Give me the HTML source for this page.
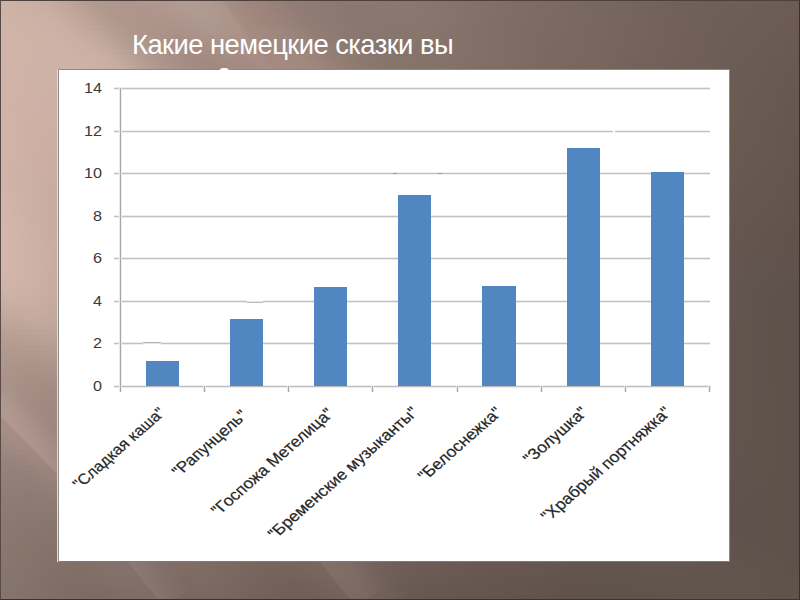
<!DOCTYPE html>
<html>
<head>
<meta charset="utf-8">
<style>
html,body{margin:0;padding:0;}
body{width:800px;height:600px;overflow:hidden;position:relative;font-family:"Liberation Sans",sans-serif;}
#bg{position:absolute;left:0;top:0;width:800px;height:600px;overflow:hidden;}
#bg i{position:absolute;left:0;width:800px;height:5px;}
#streaks{position:absolute;left:0;top:0;}
#frame{position:absolute;left:0;top:0;width:798px;height:598px;border-style:solid;border-width:1px;border-color:#4E403C #3A2F2C #3E3230 #5A4A47;}
#title{position:absolute;left:132px;top:29px;font-size:27.4px;letter-spacing:-0.56px;line-height:32px;color:#FFFFFF;white-space:nowrap;}
#t2wrap{position:absolute;left:200px;top:60px;width:60px;height:9.5px;overflow:hidden;}
#title2{position:absolute;left:18px;top:-2.3px;font-size:27.4px;line-height:32px;color:#FFFFFF;white-space:nowrap;}
#chart{position:absolute;left:57px;top:69px;width:673px;height:493px;background:#fff;
 box-shadow: inset 1px 0 0 #E2DAD6, inset 2px 0 0 #8E8E8E, inset 0 1px 0 #8A8A8A, inset -1px 0 0 #8A8A8A, inset 0 -1px 0 #7A7A7A;}
.hl{position:absolute;height:1px;background:#C2C2C2;box-shadow:0 -1px 0 #EDEDED,0 1px 0 #EDEDED;}
.vl{position:absolute;width:1px;background:#A8A8A8;box-shadow:-1px 0 0 #EAEAEA,1px 0 0 #EAEAEA;}
.bar{position:absolute;background:#5087C1;}
.yl{position:absolute;width:40px;text-align:right;font-size:15px;line-height:16px;color:#3A3A3A;transform-origin:100% 50%;transform:scaleX(1.08);}
.lab{position:absolute;white-space:nowrap;line-height:1.25em;color:#262626;-webkit-text-stroke:0.2px #262626;transform:scaleX(1.1383) rotate(-45deg);}
</style>
</head>
<body>
<div id="bg">
<i style="top:0px;background:linear-gradient(90deg,#CDB2A6 0%,#CCB1A6 1.25%,#CBB0A5 2.5%,#CAAFA4 3.75%,#C8ADA2 5%,#C6ABA0 6.25%,#C2A79D 7.5%,#BDA499 8.75%,#B89F94 10%,#B49B90 11.25%,#B0998E 12.5%,#AF978C 13.75%,#AF968C 15%,#AF968C 16.25%,#AF978C 17.5%,#B0978D 18.75%,#B0988F 20%,#B19990 21.25%,#B19B92 22.5%,#B19B92 23.75%,#B09990 25%,#AC968C 26.25%,#A99188 27.5%,#A58D84 28.75%,#A28980 30%,#9E867D 31.25%,#9C847B 32.5%,#998179 33.75%,#957F77 35%,#927D75 36.25%,#907C74 37.5%,#8E7B73 38.75%,#8D7A72 40%,#8C7971 41.25%,#8B7971 42.5%,#8B7971 43.75%,#8B7971 45%,#8B7971 46.25%,#8B7971 47.5%,#8B7971 48.75%,#8B7871 50%,#8A7870 51.25%,#89776F 52.5%,#88766E 53.75%,#87746D 55%,#86736C 56.25%,#85726B 57.5%,#84716A 58.75%,#837069 60%,#826F68 61.25%,#816E67 62.5%,#806D66 63.75%,#7F6C65 65%,#7E6C64 66.25%,#7D6B64 67.5%,#7D6A63 68.75%,#7C6A62 70%,#7B6962 71.25%,#7A6961 72.5%,#796860 73.75%,#78675F 75%,#77675F 76.25%,#77665E 77.5%,#76655D 78.75%,#75645D 80%,#74645C 81.25%,#73635C 82.5%,#72625B 83.75%,#72615A 85%,#71615A 86.25%,#706059 87.5%,#706059 88.75%,#6F5F58 90%,#6F5F58 91.25%,#6E5E57 92.5%,#6E5E57 93.75%,#6E5E57 95%,#6D5D56 96.25%,#6D5D56 97.5%,#6D5C55 98.75%,#6C5C55 100%)"></i>
<i style="top:5px;background:linear-gradient(90deg,#CEB3A7 0%,#CDB2A6 1.25%,#CCB1A5 2.5%,#CBB0A4 3.75%,#C9AEA3 5%,#C7ACA1 6.25%,#C4A99E 7.5%,#C0A59A 8.75%,#BBA196 10%,#B69D92 11.25%,#B1998E 12.5%,#AF988D 13.75%,#AF968C 15%,#AE968B 16.25%,#AF968C 17.5%,#AF968C 18.75%,#AF978E 20%,#B0988F 21.25%,#B19A91 22.5%,#B19B91 23.75%,#B09A90 25%,#AD978D 26.25%,#AA9289 27.5%,#A68E85 28.75%,#A38A81 30%,#9F877E 31.25%,#9D847C 32.5%,#9A827A 33.75%,#978078 35%,#937E76 36.25%,#917C74 37.5%,#8F7B73 38.75%,#8D7A72 40%,#8C7971 41.25%,#8B7971 42.5%,#8A7870 43.75%,#8A7870 45%,#8A7870 46.25%,#8A7971 47.5%,#8B7971 48.75%,#8A7870 50%,#8A7870 51.25%,#89776F 52.5%,#88766E 53.75%,#87746D 55%,#86736C 56.25%,#85726B 57.5%,#84716A 58.75%,#837069 60%,#826F67 61.25%,#816E66 62.5%,#806D66 63.75%,#7F6C65 65%,#7E6B64 66.25%,#7D6B63 67.5%,#7D6A63 68.75%,#7C6A62 70%,#7B6961 71.25%,#7A6961 72.5%,#796860 73.75%,#78675F 75%,#77675F 76.25%,#76665E 77.5%,#76655D 78.75%,#75645D 80%,#74635C 81.25%,#73635B 82.5%,#72625B 83.75%,#71615A 85%,#71615A 86.25%,#706059 87.5%,#6F5F59 88.75%,#6F5F58 90%,#6E5E58 91.25%,#6E5E57 92.5%,#6E5E57 93.75%,#6D5D56 95%,#6D5D56 96.25%,#6D5D56 97.5%,#6C5C55 98.75%,#6C5C55 100%)"></i>
<i style="top:10px;background:linear-gradient(90deg,#CEB3A7 0%,#CDB2A6 1.25%,#CCB1A6 2.5%,#CCB1A5 3.75%,#CAAFA4 5%,#C9AEA3 6.25%,#C6ABA0 7.5%,#C2A79C 8.75%,#BDA398 10%,#B89F94 11.25%,#B39B90 12.5%,#B0988D 13.75%,#AF978C 15%,#AE968B 16.25%,#AE958B 17.5%,#AE958B 18.75%,#AE968C 20%,#AF978E 21.25%,#AF988F 22.5%,#B09A90 23.75%,#B09A90 25%,#AE978D 26.25%,#AB9389 27.5%,#A78F85 28.75%,#A48B82 30%,#A1887E 31.25%,#9E857C 32.5%,#9B837B 33.75%,#988179 35%,#957F77 36.25%,#917D75 37.5%,#8F7B73 38.75%,#8D7A72 40%,#8C7971 41.25%,#8B7971 42.5%,#8A7870 43.75%,#8A7870 45%,#8A7870 46.25%,#8A7870 47.5%,#8A7870 48.75%,#8A7870 50%,#8A7770 51.25%,#89776F 52.5%,#88766E 53.75%,#87746D 55%,#86736C 56.25%,#85726B 57.5%,#84716A 58.75%,#837068 60%,#826F67 61.25%,#816D66 62.5%,#806D65 63.75%,#7F6C65 65%,#7E6B64 66.25%,#7D6B63 67.5%,#7C6A63 68.75%,#7C6962 70%,#7B6961 71.25%,#7A6861 72.5%,#796860 73.75%,#78675F 75%,#77665E 76.25%,#76665E 77.5%,#75655D 78.75%,#75645C 80%,#74635C 81.25%,#73635B 82.5%,#72625B 83.75%,#71615A 85%,#716059 86.25%,#706059 87.5%,#6F5F58 88.75%,#6F5F58 90%,#6E5E57 91.25%,#6E5E57 92.5%,#6D5D57 93.75%,#6D5D56 95%,#6D5D56 96.25%,#6C5C55 97.5%,#6C5C55 98.75%,#6C5B54 100%)"></i>
<i style="top:15px;background:linear-gradient(90deg,#CFB3A7 0%,#CEB3A6 1.25%,#CDB2A6 2.5%,#CCB1A5 3.75%,#CBB0A5 5%,#CAAFA4 6.25%,#C8ACA1 7.5%,#C4A99E 8.75%,#C0A59A 10%,#BBA196 11.25%,#B59D92 12.5%,#B1998E 13.75%,#AF978C 15%,#AE968B 16.25%,#AE958B 17.5%,#AE958B 18.75%,#AD958B 20%,#AE958C 21.25%,#AE978E 22.5%,#AF988F 23.75%,#B0998F 25%,#AE978D 26.25%,#AB948A 27.5%,#A89086 28.75%,#A58C83 30%,#A2897F 31.25%,#9F867D 32.5%,#9D847B 33.75%,#9A827A 35%,#968078 36.25%,#937D75 37.5%,#907C74 38.75%,#8E7A72 40%,#8C7971 41.25%,#8B7970 42.5%,#8A7870 43.75%,#89786F 45%,#89786F 46.25%,#89786F 47.5%,#8A7870 48.75%,#8A7870 50%,#89776F 51.25%,#89766F 52.5%,#88756E 53.75%,#87746D 55%,#86736C 56.25%,#85726B 57.5%,#847169 58.75%,#837068 60%,#816E67 61.25%,#806D66 62.5%,#7F6C65 63.75%,#7F6C65 65%,#7E6B64 66.25%,#7D6A63 67.5%,#7C6A62 68.75%,#7B6962 70%,#7B6961 71.25%,#7A6860 72.5%,#796860 73.75%,#78675F 75%,#77665E 76.25%,#76655E 77.5%,#75655D 78.75%,#74645C 80%,#74635C 81.25%,#73625B 82.5%,#72625A 83.75%,#71615A 85%,#706059 86.25%,#706059 87.5%,#6F5F58 88.75%,#6E5F58 90%,#6E5E57 91.25%,#6D5E57 92.5%,#6D5D56 93.75%,#6C5D56 95%,#6C5C55 96.25%,#6C5C55 97.5%,#6C5C55 98.75%,#6B5B54 100%)"></i>
<i style="top:20px;background:linear-gradient(90deg,#CFB4A7 0%,#CEB3A7 1.25%,#CDB2A6 2.5%,#CDB2A6 3.75%,#CCB1A5 5%,#CBB0A4 6.25%,#C9AEA3 7.5%,#C6ABA0 8.75%,#C2A79C 10%,#BDA398 11.25%,#B89F94 12.5%,#B39B90 13.75%,#B0988D 15%,#AF968C 16.25%,#AE958B 17.5%,#AD948A 18.75%,#AD948A 20%,#AC948B 21.25%,#AD958C 22.5%,#AE978D 23.75%,#AE988E 25%,#AE978D 26.25%,#AB948A 27.5%,#A99187 28.75%,#A68D83 30%,#A38A80 31.25%,#A0877E 32.5%,#9E857C 33.75%,#9B837B 35%,#988179 36.25%,#947F76 37.5%,#917C74 38.75%,#8F7B73 40%,#8D7A72 41.25%,#8B7971 42.5%,#8A7870 43.75%,#89776F 45%,#89776F 46.25%,#89776F 47.5%,#89776F 48.75%,#89776F 50%,#89776F 51.25%,#88766E 52.5%,#88756E 53.75%,#87746D 55%,#86736C 56.25%,#85726B 57.5%,#847169 58.75%,#827068 60%,#816E67 61.25%,#806D66 62.5%,#7F6C65 63.75%,#7E6B64 65%,#7E6B64 66.25%,#7D6A63 67.5%,#7C6A62 68.75%,#7B6962 70%,#7A6861 71.25%,#7A6860 72.5%,#796760 73.75%,#78675F 75%,#77665E 76.25%,#76655D 77.5%,#75655D 78.75%,#74645C 80%,#73635B 81.25%,#73625B 82.5%,#72615A 83.75%,#71615A 85%,#706059 86.25%,#6F5F59 87.5%,#6F5F58 88.75%,#6E5E57 90%,#6D5E57 91.25%,#6D5D56 92.5%,#6C5D56 93.75%,#6C5D56 95%,#6C5C55 96.25%,#6C5C55 97.5%,#6B5B54 98.75%,#6B5B54 100%)"></i>
<i style="top:25px;background:linear-gradient(90deg,#D0B4A8 0%,#CFB3A7 1.25%,#CEB2A7 2.5%,#CDB2A6 3.75%,#CDB1A6 5%,#CCB0A5 6.25%,#CAAFA4 7.5%,#C8ADA2 8.75%,#C5A99E 10%,#C0A69B 11.25%,#BBA296 12.5%,#B69D92 13.75%,#B29A8F 15%,#AF978C 16.25%,#AE958B 17.5%,#AD948A 18.75%,#AC9389 20%,#AB9389 21.25%,#AC938A 22.5%,#AC958C 23.75%,#AD968D 25%,#AD968C 26.25%,#AB948A 27.5%,#A99187 28.75%,#A68E84 30%,#A48B81 31.25%,#A2887F 32.5%,#9F867D 33.75%,#9D857C 35%,#9A827A 36.25%,#968077 37.5%,#927D75 38.75%,#907C73 40%,#8E7A72 41.25%,#8C7971 42.5%,#8A7870 43.75%,#89776F 45%,#88776E 46.25%,#88776E 47.5%,#88776E 48.75%,#89776F 50%,#89776F 51.25%,#88766E 52.5%,#87756D 53.75%,#86746D 55%,#86736C 56.25%,#84726A 57.5%,#837169 58.75%,#827068 60%,#816E67 61.25%,#806D66 62.5%,#7F6C65 63.75%,#7E6B64 65%,#7D6B63 66.25%,#7D6A63 67.5%,#7C6962 68.75%,#7B6962 70%,#7A6861 71.25%,#7A6860 72.5%,#79675F 73.75%,#78675F 75%,#77665E 76.25%,#76655D 77.5%,#75645D 78.75%,#74645C 80%,#73635B 81.25%,#73625B 82.5%,#72615A 83.75%,#716159 85%,#706059 86.25%,#6F5F58 87.5%,#6F5F58 88.75%,#6E5E57 90%,#6D5E57 91.25%,#6D5D56 92.5%,#6C5D56 93.75%,#6C5C55 95%,#6B5C55 96.25%,#6B5C55 97.5%,#6B5B54 98.75%,#6B5B54 100%)"></i>
<i style="top:30px;background:linear-gradient(90deg,#D0B4A8 0%,#CFB3A7 1.25%,#CEB3A7 2.5%,#CEB2A6 3.75%,#CDB2A6 5%,#CCB1A6 6.25%,#CBB0A5 7.5%,#C9AEA3 8.75%,#C7ABA0 10%,#C3A89D 11.25%,#BEA499 12.5%,#B89F95 13.75%,#B49B90 15%,#B1988D 16.25%,#AE968B 17.5%,#AD948A 18.75%,#AC9289 20%,#AB9288 21.25%,#AA9289 22.5%,#AB938A 23.75%,#AC948B 25%,#AC958B 26.25%,#AB9389 27.5%,#A99187 28.75%,#A78E84 30%,#A58B81 31.25%,#A3897F 32.5%,#A1877E 33.75%,#9E867D 35%,#9B847B 36.25%,#988178 37.5%,#947F76 38.75%,#917C74 40%,#8E7B72 41.25%,#8C7971 42.5%,#8B7870 43.75%,#89776F 45%,#88776E 46.25%,#88766E 47.5%,#88766E 48.75%,#88766E 50%,#88766E 51.25%,#88766E 52.5%,#87756D 53.75%,#86746C 55%,#85736B 56.25%,#84726A 57.5%,#837169 58.75%,#826F68 60%,#816E67 61.25%,#806D66 62.5%,#7F6C65 63.75%,#7E6B64 65%,#7D6A63 66.25%,#7C6A63 67.5%,#7C6962 68.75%,#7B6961 70%,#7A6861 71.25%,#796760 72.5%,#79675F 73.75%,#78665F 75%,#77665E 76.25%,#76655D 77.5%,#75645C 78.75%,#74645C 80%,#73635B 81.25%,#72625A 82.5%,#72615A 83.75%,#716059 85%,#706059 86.25%,#6F5F58 87.5%,#6E5E58 88.75%,#6E5E57 90%,#6D5D56 91.25%,#6C5D56 92.5%,#6C5C56 93.75%,#6B5C55 95%,#6B5C55 96.25%,#6B5B54 97.5%,#6B5B54 98.75%,#6A5B53 100%)"></i>
<i style="top:35px;background:linear-gradient(90deg,#D0B4A8 0%,#CFB3A7 1.25%,#CFB3A7 2.5%,#CEB2A7 3.75%,#CEB2A6 5%,#CDB2A6 6.25%,#CCB1A5 7.5%,#CBAFA4 8.75%,#C8ADA2 10%,#C5AA9F 11.25%,#C1A79C 12.5%,#BBA297 13.75%,#B69D93 15%,#B29A8F 16.25%,#AF968C 17.5%,#AD948A 18.75%,#AB9288 20%,#AA9187 21.25%,#A99087 22.5%,#A99188 23.75%,#AA9289 25%,#AA9389 26.25%,#AA9288 27.5%,#A99086 28.75%,#A78E84 30%,#A58C82 31.25%,#A38A80 32.5%,#A2887F 33.75%,#A0877E 35%,#9D857C 36.25%,#9A837A 37.5%,#968077 38.75%,#927D75 40%,#8F7B73 41.25%,#8D7A71 42.5%,#8B7870 43.75%,#89776F 45%,#88776E 46.25%,#87766D 47.5%,#87766D 48.75%,#87766D 50%,#87766D 51.25%,#87756D 52.5%,#87756D 53.75%,#86746C 55%,#85736B 56.25%,#84726A 57.5%,#837169 58.75%,#826F68 60%,#816E67 61.25%,#806D66 62.5%,#7F6C65 63.75%,#7E6B64 65%,#7D6A63 66.25%,#7C6962 67.5%,#7C6962 68.75%,#7B6861 70%,#7A6861 71.25%,#796760 72.5%,#78675F 73.75%,#78665F 75%,#77665E 76.25%,#76655D 77.5%,#75645C 78.75%,#74635C 80%,#73635B 81.25%,#72625A 82.5%,#71615A 83.75%,#716059 85%,#706058 86.25%,#6F5F58 87.5%,#6E5E57 88.75%,#6D5E57 90%,#6D5D56 91.25%,#6C5D56 92.5%,#6B5C55 93.75%,#6B5C55 95%,#6B5B54 96.25%,#6A5B54 97.5%,#6A5B54 98.75%,#6A5A53 100%)"></i>
<i style="top:40px;background:linear-gradient(90deg,#D0B4A8 0%,#D0B3A7 1.25%,#CFB3A7 2.5%,#CEB3A7 3.75%,#CEB2A7 5%,#CDB2A6 6.25%,#CDB1A6 7.5%,#CCB0A5 8.75%,#CAAFA4 10%,#C7ACA1 11.25%,#C3A99E 12.5%,#BEA59A 13.75%,#B9A095 15%,#B49B91 16.25%,#B0988D 17.5%,#AE958A 18.75%,#AB9288 20%,#A99087 21.25%,#A88F86 22.5%,#A88F86 23.75%,#A89087 25%,#A99188 26.25%,#A99187 27.5%,#A89085 28.75%,#A68D83 30%,#A58C82 31.25%,#A48A80 32.5%,#A3897F 33.75%,#A1887E 35%,#9F867D 36.25%,#9B847B 37.5%,#988178 38.75%,#947E76 40%,#917C74 41.25%,#8E7A72 42.5%,#8C7970 43.75%,#8A786F 45%,#88776E 46.25%,#87766D 47.5%,#87756D 48.75%,#87756D 50%,#87756D 51.25%,#87756D 52.5%,#86756C 53.75%,#86746C 55%,#85736B 56.25%,#84726A 57.5%,#837169 58.75%,#826F68 60%,#816E67 61.25%,#806D66 62.5%,#7F6C65 63.75%,#7E6B64 65%,#7D6A63 66.25%,#7C6962 67.5%,#7B6962 68.75%,#7B6861 70%,#7A6860 71.25%,#796760 72.5%,#78665F 73.75%,#77665E 75%,#77655E 76.25%,#76655D 77.5%,#75645C 78.75%,#74635B 80%,#73635B 81.25%,#72625A 82.5%,#716159 83.75%,#706059 85%,#706058 86.25%,#6F5F58 87.5%,#6E5E57 88.75%,#6D5E57 90%,#6C5D56 91.25%,#6C5C56 92.5%,#6B5C55 93.75%,#6B5C55 95%,#6A5B54 96.25%,#6A5B54 97.5%,#6A5A53 98.75%,#695A53 100%)"></i>
<i style="top:45px;background:linear-gradient(90deg,#D1B4A8 0%,#D0B3A8 1.25%,#CFB3A7 2.5%,#CFB3A7 3.75%,#CEB2A7 5%,#CEB2A7 6.25%,#CDB2A6 7.5%,#CCB1A6 8.75%,#CBB0A5 10%,#C9AEA3 11.25%,#C6ABA0 12.5%,#C1A79C 13.75%,#BBA297 15%,#B69D93 16.25%,#B2998F 17.5%,#AE968B 18.75%,#AC9389 20%,#A99087 21.25%,#A78E85 22.5%,#A68E85 23.75%,#A78E85 25%,#A78F86 26.25%,#A88F86 27.5%,#A78F85 28.75%,#A68D83 30%,#A58B81 31.25%,#A48A80 32.5%,#A3897F 33.75%,#A2897F 35%,#A0887E 36.25%,#9D857C 37.5%,#998379 38.75%,#958077 40%,#927D74 41.25%,#8F7B72 42.5%,#8C7971 43.75%,#8A786F 45%,#88776E 46.25%,#87766D 47.5%,#86756C 48.75%,#86756C 50%,#86756C 51.25%,#86756C 52.5%,#86746C 53.75%,#85746B 55%,#85736B 56.25%,#84726A 57.5%,#837069 58.75%,#826F68 60%,#816E67 61.25%,#806D66 62.5%,#7F6C65 63.75%,#7E6B64 65%,#7D6A63 66.25%,#7C6962 67.5%,#7B6862 68.75%,#7A6861 70%,#7A6760 71.25%,#796760 72.5%,#78665F 73.75%,#77665E 75%,#76655E 76.25%,#76645D 77.5%,#75645C 78.75%,#74635B 80%,#73625B 81.25%,#72625A 82.5%,#716159 83.75%,#706059 85%,#6F5F58 86.25%,#6F5F58 87.5%,#6E5E57 88.75%,#6D5D56 90%,#6C5D56 91.25%,#6C5C55 92.5%,#6B5C55 93.75%,#6A5B54 95%,#6A5B54 96.25%,#6A5B54 97.5%,#695A53 98.75%,#695A53 100%)"></i>
<i style="top:50px;background:linear-gradient(90deg,#D1B4A8 0%,#D0B3A8 1.25%,#CFB3A7 2.5%,#CFB3A7 3.75%,#CEB2A7 5%,#CEB2A7 6.25%,#CEB2A7 7.5%,#CDB1A6 8.75%,#CCB0A5 10%,#CAAFA4 11.25%,#C8ADA2 12.5%,#C4AA9F 13.75%,#BEA59A 15%,#B8A095 16.25%,#B49B90 17.5%,#B0978C 18.75%,#AC9389 20%,#AA9087 21.25%,#A78E85 22.5%,#A68D84 23.75%,#A58D84 25%,#A68D84 26.25%,#A68E84 27.5%,#A68D83 28.75%,#A58C82 30%,#A58B81 31.25%,#A48A80 32.5%,#A38A80 33.75%,#A3897F 35%,#A2897F 36.25%,#9F877D 37.5%,#9B847B 38.75%,#978178 40%,#937E75 41.25%,#907C73 42.5%,#8D7A71 43.75%,#8B786F 45%,#89776E 46.25%,#87766D 47.5%,#86756C 48.75%,#86756C 50%,#86746C 51.25%,#85746C 52.5%,#85746C 53.75%,#85736B 55%,#84726A 56.25%,#83716A 57.5%,#837069 58.75%,#826F68 60%,#816E67 61.25%,#806D66 62.5%,#7F6C65 63.75%,#7E6B64 65%,#7D6A63 66.25%,#7C6962 67.5%,#7B6861 68.75%,#7A6861 70%,#7A6760 71.25%,#796760 72.5%,#78665F 73.75%,#77655E 75%,#76655D 76.25%,#75645D 77.5%,#75645C 78.75%,#74635B 80%,#73625B 81.25%,#72615A 82.5%,#716159 83.75%,#706059 85%,#6F5F58 86.25%,#6F5F57 87.5%,#6E5E57 88.75%,#6D5D56 90%,#6C5D56 91.25%,#6B5C55 92.5%,#6B5C55 93.75%,#6A5B54 95%,#6A5B54 96.25%,#695A53 97.5%,#695A53 98.75%,#695A52 100%)"></i>
<i style="top:55px;background:linear-gradient(90deg,#D1B4A8 0%,#D0B3A8 1.25%,#D0B3A7 2.5%,#CFB3A7 3.75%,#CFB2A7 5%,#CEB2A7 6.25%,#CEB2A7 7.5%,#CDB2A7 8.75%,#CDB1A6 10%,#CBB0A5 11.25%,#C9AEA3 12.5%,#C6ACA1 13.75%,#C1A79C 15%,#BBA297 16.25%,#B69D92 17.5%,#B1988E 18.75%,#AD948A 20%,#AA9187 21.25%,#A78E85 22.5%,#A58C83 23.75%,#A48B82 25%,#A48C83 26.25%,#A58C83 27.5%,#A58C82 28.75%,#A48B81 30%,#A48A80 31.25%,#A48A7F 32.5%,#A3897F 33.75%,#A3897F 35%,#A3897F 36.25%,#A1887E 37.5%,#9D857C 38.75%,#998279 40%,#957F76 41.25%,#917D74 42.5%,#8E7B72 43.75%,#8C7970 45%,#89776E 46.25%,#88766D 47.5%,#86756C 48.75%,#85746B 50%,#85746B 51.25%,#85746B 52.5%,#85736B 53.75%,#84736B 55%,#84726A 56.25%,#837169 57.5%,#827069 58.75%,#816F68 60%,#806E67 61.25%,#7F6D66 62.5%,#7E6C65 63.75%,#7D6B64 65%,#7C6A63 66.25%,#7C6962 67.5%,#7B6861 68.75%,#7A6761 70%,#796760 71.25%,#79665F 72.5%,#78665F 73.75%,#77655E 75%,#76655D 76.25%,#75645D 77.5%,#74635C 78.75%,#74635B 80%,#73625A 81.25%,#72615A 82.5%,#716159 83.75%,#706058 85%,#6F5F58 86.25%,#6E5E57 87.5%,#6E5E57 88.75%,#6D5D56 90%,#6C5D55 91.25%,#6B5C55 92.5%,#6B5B54 93.75%,#6A5B54 95%,#695A53 96.25%,#695A53 97.5%,#695A53 98.75%,#685952 100%)"></i>
<i style="top:60px;background:linear-gradient(90deg,#D1B4A8 0%,#D0B3A8 1.25%,#D0B3A7 2.5%,#CFB3A7 3.75%,#CFB2A7 5%,#CEB2A7 6.25%,#CEB2A7 7.5%,#CEB2A7 8.75%,#CDB2A6 10%,#CCB1A6 11.25%,#CAAFA4 12.5%,#C8ADA2 13.75%,#C3AA9F 15%,#BDA499 16.25%,#B89F94 17.5%,#B39A8F 18.75%,#AE958B 20%,#AB9288 21.25%,#A88E85 22.5%,#A58C83 23.75%,#A38A81 25%,#A38A81 26.25%,#A48B81 27.5%,#A48B81 28.75%,#A48A80 30%,#A3897F 31.25%,#A3897F 32.5%,#A3897F 33.75%,#A3897F 35%,#A3897F 36.25%,#A2897F 37.5%,#9F877D 38.75%,#9B847A 40%,#978177 41.25%,#937E75 42.5%,#8F7B72 43.75%,#8D7970 45%,#8A786F 46.25%,#88766D 47.5%,#86756C 48.75%,#85746B 50%,#85746B 51.25%,#84736B 52.5%,#84736B 53.75%,#84736A 55%,#84726A 56.25%,#837169 57.5%,#827068 58.75%,#816F67 60%,#806E67 61.25%,#7F6D66 62.5%,#7E6C65 63.75%,#7D6B64 65%,#7C6A63 66.25%,#7B6962 67.5%,#7B6861 68.75%,#7A6760 70%,#796760 71.25%,#78665F 72.5%,#78665F 73.75%,#77655E 75%,#76645D 76.25%,#75645D 77.5%,#74635C 78.75%,#73635B 80%,#73625A 81.25%,#72615A 82.5%,#716059 83.75%,#706058 85%,#6F5F58 86.25%,#6E5E57 87.5%,#6D5E56 88.75%,#6D5D56 90%,#6C5C55 91.25%,#6B5C55 92.5%,#6A5B54 93.75%,#6A5B54 95%,#695A53 96.25%,#695A53 97.5%,#685952 98.75%,#685952 100%)"></i>
<i style="top:65px;background:linear-gradient(90deg,#D1B4A8 0%,#D0B3A8 1.25%,#D0B3A7 2.5%,#CFB2A7 3.75%,#CFB2A7 5%,#CFB2A7 6.25%,#CEB2A7 7.5%,#CEB2A7 8.75%,#CDB2A7 10%,#CCB1A6 11.25%,#CBB0A5 12.5%,#C9AEA3 13.75%,#C5ABA0 15%,#C0A69B 16.25%,#BAA196 17.5%,#B59C91 18.75%,#B0978D 20%,#AC9389 21.25%,#A88F85 22.5%,#A58C83 23.75%,#A38A81 25%,#A28980 26.25%,#A28980 27.5%,#A38A80 28.75%,#A3897F 30%,#A2887E 31.25%,#A2887E 32.5%,#A3887E 33.75%,#A3897F 35%,#A3897F 36.25%,#A2897F 37.5%,#A0887E 38.75%,#9C857B 40%,#988278 41.25%,#947F76 42.5%,#917C73 43.75%,#8D7A71 45%,#8B786F 46.25%,#88766D 47.5%,#87756C 48.75%,#85746B 50%,#84736A 51.25%,#84736A 52.5%,#84736A 53.75%,#84726A 55%,#837269 56.25%,#837169 57.5%,#827068 58.75%,#816F67 60%,#806E66 61.25%,#7F6D65 62.5%,#7E6C64 63.75%,#7D6B63 65%,#7C6963 66.25%,#7B6962 67.5%,#7A6861 68.75%,#7A6760 70%,#796660 71.25%,#78665F 72.5%,#78655E 73.75%,#77655E 75%,#76645D 76.25%,#75645C 77.5%,#74635C 78.75%,#73625B 80%,#72625A 81.25%,#726159 82.5%,#716059 83.75%,#706058 85%,#6F5F57 86.25%,#6E5E57 87.5%,#6D5E56 88.75%,#6D5D56 90%,#6C5C55 91.25%,#6B5C54 92.5%,#6A5B54 93.75%,#6A5B53 95%,#695A53 96.25%,#685A53 97.5%,#685952 98.75%,#685952 100%)"></i>
<i style="top:70px;background:linear-gradient(90deg,#D1B4A8 0%,#D0B3A7 1.25%,#D0B2A7 2.5%,#CFB2A7 3.75%,#CFB2A7 5%,#CFB2A7 6.25%,#CEB2A7 7.5%,#CEB2A7 8.75%,#6C5D55 90%,#6C5C55 91.25%,#6B5B54 92.5%,#6A5B54 93.75%,#695A53 95%,#695A53 96.25%,#685952 97.5%,#685952 98.75%,#675951 100%)"></i>
<i style="top:75px;background:linear-gradient(90deg,#D1B4A8 0%,#D0B3A7 1.25%,#D0B2A7 2.5%,#CFB2A7 3.75%,#CFB2A7 5%,#CFB2A7 6.25%,#CEB2A7 7.5%,#CEB2A7 8.75%,#6C5D55 90%,#6B5C55 91.25%,#6B5B54 92.5%,#6A5B54 93.75%,#695A53 95%,#695A53 96.25%,#685952 97.5%,#675952 98.75%,#675851 100%)"></i>
<i style="top:80px;background:linear-gradient(90deg,#D1B3A8 0%,#D0B3A7 1.25%,#D0B2A7 2.5%,#CFB2A7 3.75%,#CFB2A6 5%,#CEB2A6 6.25%,#CEB2A7 7.5%,#CEB2A7 8.75%,#6C5C55 90%,#6B5C54 91.25%,#6B5B54 92.5%,#6A5B53 93.75%,#695A53 95%,#685A52 96.25%,#685952 97.5%,#675951 98.75%,#675851 100%)"></i>
<i style="top:85px;background:linear-gradient(90deg,#D1B3A8 0%,#D1B3A7 1.25%,#D0B2A7 2.5%,#CFB2A6 3.75%,#CFB1A6 5%,#CEB1A6 6.25%,#CEB1A6 7.5%,#CEB2A6 8.75%,#6C5C55 90%,#6B5C54 91.25%,#6A5B54 92.5%,#6A5B53 93.75%,#695A53 95%,#685952 96.25%,#685952 97.5%,#675851 98.75%,#675851 100%)"></i>
<i style="top:90px;background:linear-gradient(90deg,#D1B3A8 0%,#D1B2A7 1.25%,#D0B2A7 2.5%,#CFB1A6 3.75%,#CFB1A6 5%,#CEB1A6 6.25%,#CEB1A6 7.5%,#CEB1A6 8.75%,#6C5C55 90%,#6B5C54 91.25%,#6A5B53 92.5%,#6A5A53 93.75%,#695A52 95%,#685952 96.25%,#675951 97.5%,#675851 98.75%,#665850 100%)"></i>
<i style="top:95px;background:linear-gradient(90deg,#D2B3A8 0%,#D0B2A7 1.25%,#D0B2A6 2.5%,#CFB1A6 3.75%,#CEB1A6 5%,#CEB1A6 6.25%,#CEB1A6 7.5%,#CEB1A6 8.75%,#6C5C54 90%,#6B5B54 91.25%,#6A5B53 92.5%,#695A53 93.75%,#695A52 95%,#685952 96.25%,#675951 97.5%,#675851 98.75%,#665850 100%)"></i>
<i style="top:100px;background:linear-gradient(90deg,#D2B3A8 0%,#D0B2A7 1.25%,#D0B1A6 2.5%,#CFB1A6 3.75%,#CEB1A6 5%,#CEB0A6 6.25%,#CEB0A6 7.5%,#CDB1A6 8.75%,#6C5C54 90%,#6B5B54 91.25%,#6A5B53 92.5%,#695A53 93.75%,#695A52 95%,#685951 96.25%,#675851 97.5%,#665850 98.75%,#665750 100%)"></i>
<i style="top:105px;background:linear-gradient(90deg,#D2B3A8 0%,#D0B2A7 1.25%,#D0B1A6 2.5%,#CFB1A6 3.75%,#CEB0A5 5%,#CEB0A5 6.25%,#CDB0A5 7.5%,#CDB0A5 8.75%,#6C5C54 90%,#6B5B54 91.25%,#6A5B53 92.5%,#695A52 93.75%,#685952 95%,#685951 96.25%,#675851 97.5%,#665850 98.75%,#665750 100%)"></i>
<i style="top:110px;background:linear-gradient(90deg,#D2B3A8 0%,#D0B2A7 1.25%,#CFB1A6 2.5%,#CFB1A6 3.75%,#CEB0A5 5%,#CDB0A5 6.25%,#CDB0A5 7.5%,#CDB0A5 8.75%,#6C5C54 90%,#6B5B53 91.25%,#6A5B53 92.5%,#695A52 93.75%,#685952 95%,#685951 96.25%,#675851 97.5%,#665850 98.75%,#655750 100%)"></i>
<i style="top:115px;background:linear-gradient(90deg,#D2B4A8 0%,#D0B2A7 1.25%,#CFB1A6 2.5%,#CFB0A5 3.75%,#CEB0A5 5%,#CDAFA5 6.25%,#CDAFA5 7.5%,#CCAFA5 8.75%,#6B5C54 90%,#6B5B53 91.25%,#6A5A53 92.5%,#695A52 93.75%,#685951 95%,#675951 96.25%,#675850 97.5%,#665750 98.75%,#65574F 100%)"></i>
<i style="top:120px;background:linear-gradient(90deg,#D2B4A8 0%,#D0B2A7 1.25%,#CFB1A6 2.5%,#CEB0A5 3.75%,#CEB0A5 5%,#CDAFA4 6.25%,#CDAFA4 7.5%,#CCAFA4 8.75%,#6B5B54 90%,#6A5B53 91.25%,#6A5A52 92.5%,#695A52 93.75%,#685951 95%,#675851 96.25%,#675850 97.5%,#665750 98.75%,#65574F 100%)"></i>
<i style="top:125px;background:linear-gradient(90deg,#D2B4A8 0%,#D0B2A7 1.25%,#CFB1A6 2.5%,#CEB0A5 3.75%,#CDAFA5 5%,#CDAFA4 6.25%,#CCAFA4 7.5%,#CCAEA4 8.75%,#6B5B54 90%,#6A5B53 91.25%,#6A5A52 92.5%,#695A52 93.75%,#685951 95%,#675850 96.25%,#665850 97.5%,#66574F 98.75%,#65574F 100%)"></i>
<i style="top:130px;background:linear-gradient(90deg,#D2B4A8 0%,#D0B2A7 1.25%,#CFB1A6 2.5%,#CEB0A5 3.75%,#CDAFA4 5%,#CDAFA4 6.25%,#CCAEA4 7.5%,#CCAEA3 8.75%,#6B5B53 90%,#6A5A53 91.25%,#695A52 92.5%,#695951 93.75%,#685951 95%,#675850 96.25%,#665850 97.5%,#66574F 98.75%,#65574F 100%)"></i>
<i style="top:135px;background:linear-gradient(90deg,#D2B4A8 0%,#D0B2A7 1.25%,#CFB1A6 2.5%,#CEB0A5 3.75%,#CDAFA4 5%,#CCAEA4 6.25%,#CCAEA3 7.5%,#CBAEA3 8.75%,#6B5B53 90%,#6A5A53 91.25%,#695A52 92.5%,#695951 93.75%,#685951 95%,#675850 96.25%,#665850 97.5%,#65574F 98.75%,#65564F 100%)"></i>
<i style="top:140px;background:linear-gradient(90deg,#D2B4A8 0%,#D0B2A7 1.25%,#CFB1A6 2.5%,#CEB0A5 3.75%,#CDAFA4 5%,#CCAEA4 6.25%,#CBAEA3 7.5%,#CBADA3 8.75%,#6B5B53 90%,#6A5A52 91.25%,#695A52 92.5%,#685951 93.75%,#685951 95%,#675850 96.25%,#66574F 97.5%,#65574F 98.75%,#65564E 100%)"></i>
<i style="top:145px;background:linear-gradient(90deg,#D2B4A8 0%,#D0B2A7 1.25%,#CFB1A6 2.5%,#CEB0A5 3.75%,#CDAFA4 5%,#CCAEA3 6.25%,#CBADA3 7.5%,#CBADA2 8.75%,#6A5A53 90%,#6A5A52 91.25%,#695952 92.5%,#685951 93.75%,#675850 95%,#675850 96.25%,#66574F 97.5%,#65574F 98.75%,#64564E 100%)"></i>
<i style="top:150px;background:linear-gradient(90deg,#D2B4A9 0%,#D0B2A7 1.25%,#CFB1A6 2.5%,#CEB0A5 3.75%,#CDAFA4 5%,#CCAEA3 6.25%,#CBADA3 7.5%,#CAADA2 8.75%,#6A5A53 90%,#695A52 91.25%,#695952 92.5%,#685951 93.75%,#675850 95%,#675850 96.25%,#66574F 97.5%,#65574F 98.75%,#64564E 100%)"></i>
<i style="top:155px;background:linear-gradient(90deg,#D2B4A9 0%,#D0B2A7 1.25%,#CFB1A6 2.5%,#CDB0A5 3.75%,#CCAFA4 5%,#CBAEA3 6.25%,#CBADA2 7.5%,#CAACA2 8.75%,#6A5A53 90%,#695952 91.25%,#695951 92.5%,#685851 93.75%,#675850 95%,#66574F 96.25%,#66574F 97.5%,#65564E 98.75%,#64564E 100%)"></i>
<i style="top:160px;background:linear-gradient(90deg,#D2B4A9 0%,#D0B2A7 1.25%,#CFB1A6 2.5%,#CDB0A5 3.75%,#CCAEA4 5%,#CBADA3 6.25%,#CAADA2 7.5%,#CAACA2 8.75%,#6A5A53 90%,#695952 91.25%,#685951 92.5%,#685851 93.75%,#675850 95%,#66574F 96.25%,#65574F 97.5%,#65564E 98.75%,#64564E 100%)"></i>
<i style="top:165px;background:linear-gradient(90deg,#D2B4A9 0%,#D0B3A7 1.25%,#CEB1A6 2.5%,#CDB0A5 3.75%,#CCAEA4 5%,#CBADA3 6.25%,#CAACA2 7.5%,#C9ACA1 8.75%,#6A5A53 90%,#695952 91.25%,#685951 92.5%,#675850 93.75%,#675850 95%,#66574F 96.25%,#65574F 97.5%,#65564E 98.75%,#64564D 100%)"></i>
<i style="top:170px;background:linear-gradient(90deg,#D2B5A9 0%,#D0B3A7 1.25%,#CEB1A6 2.5%,#CDB0A5 3.75%,#CCAEA3 5%,#CBADA3 6.25%,#CAACA2 7.5%,#C9ABA1 8.75%,#695952 90%,#695952 91.25%,#685851 92.5%,#675850 93.75%,#675750 95%,#66574F 96.25%,#65564E 97.5%,#64564E 98.75%,#64554D 100%)"></i>
<i style="top:175px;background:linear-gradient(90deg,#D2B5A9 0%,#D0B3A8 1.25%,#CEB1A6 2.5%,#CDB0A5 3.75%,#CCAEA3 5%,#CBADA2 6.25%,#CAACA2 7.5%,#C9ABA1 8.75%,#695952 90%,#685952 91.25%,#685851 92.5%,#675850 93.75%,#665750 95%,#66574F 96.25%,#65564E 97.5%,#64564E 98.75%,#63554D 100%)"></i>
<i style="top:180px;background:linear-gradient(90deg,#D2B5AA 0%,#D0B3A8 1.25%,#CEB1A6 2.5%,#CDAFA5 3.75%,#CBAEA3 5%,#CAADA2 6.25%,#C9ACA1 7.5%,#C8ABA1 8.75%,#695952 90%,#685851 91.25%,#675851 92.5%,#675750 93.75%,#66574F 95%,#65564F 96.25%,#65564E 97.5%,#64564E 98.75%,#63554D 100%)"></i>
<i style="top:185px;background:linear-gradient(90deg,#D2B5AA 0%,#D0B3A8 1.25%,#CEB1A6 2.5%,#CDAFA5 3.75%,#CBAEA3 5%,#CAADA2 6.25%,#C9ACA1 7.5%,#C8ABA0 8.75%,#695952 90%,#685851 91.25%,#675851 92.5%,#675750 93.75%,#66574F 95%,#65564F 96.25%,#64564E 97.5%,#64554D 98.75%,#63554D 100%)"></i>
<i style="top:190px;background:linear-gradient(90deg,#D3B6AA 0%,#D1B3A8 1.25%,#CEB1A6 2.5%,#CDB0A5 3.75%,#CBAEA3 5%,#CAADA2 6.25%,#C9ACA1 7.5%,#C8AAA0 8.75%,#685852 90%,#685851 91.25%,#675751 92.5%,#665750 93.75%,#66574F 95%,#65564F 96.25%,#64564E 97.5%,#64554D 98.75%,#63554D 100%)"></i>
<i style="top:195px;background:linear-gradient(90deg,#D3B6AB 0%,#D1B4A8 1.25%,#CFB2A6 2.5%,#CDB0A5 3.75%,#CBAEA3 5%,#CAADA2 6.25%,#C9ABA1 7.5%,#C7AAA0 8.75%,#685852 90%,#675851 91.25%,#675750 92.5%,#665750 93.75%,#65564F 95%,#65564E 96.25%,#64554E 97.5%,#63554D 98.75%,#63544D 100%)"></i>
<i style="top:200px;background:linear-gradient(90deg,#D3B6AB 0%,#D1B4A9 1.25%,#CFB2A7 2.5%,#CDB0A5 3.75%,#CBAEA3 5%,#CAADA2 6.25%,#C8ABA1 7.5%,#C7AAA0 8.75%,#685852 90%,#675751 91.25%,#675750 92.5%,#665750 93.75%,#65564F 95%,#65564E 96.25%,#64554E 97.5%,#63554D 98.75%,#62544C 100%)"></i>
<i style="top:205px;background:linear-gradient(90deg,#D3B7AB 0%,#D1B4A9 1.25%,#CFB2A7 2.5%,#CDB0A5 3.75%,#CBAEA3 5%,#C9ADA2 6.25%,#C8ABA1 7.5%,#C7AAA0 8.75%,#685852 90%,#675751 91.25%,#665750 92.5%,#665650 93.75%,#65564F 95%,#64554E 96.25%,#64554E 97.5%,#63554D 98.75%,#62544C 100%)"></i>
<i style="top:210px;background:linear-gradient(90deg,#D4B7AC 0%,#D2B5A9 1.25%,#CFB2A7 2.5%,#CDB0A5 3.75%,#CBAEA3 5%,#C9ACA2 6.25%,#C8ABA1 7.5%,#C7AA9F 8.75%,#675851 90%,#675751 91.25%,#665750 92.5%,#65564F 93.75%,#65564F 95%,#64554E 96.25%,#63554D 97.5%,#63544D 98.75%,#62544C 100%)"></i>
<i style="top:215px;background:linear-gradient(90deg,#D4B7AC 0%,#D2B5AA 1.25%,#CFB3A8 2.5%,#CDB0A5 3.75%,#CBAEA4 5%,#C9ADA2 6.25%,#C8ABA0 7.5%,#C6AA9F 8.75%,#675751 90%,#665751 91.25%,#665650 92.5%,#65564F 93.75%,#64554F 95%,#64554E 96.25%,#63554D 97.5%,#62544D 98.75%,#62544C 100%)"></i>
<i style="top:220px;background:linear-gradient(90deg,#D4B7AC 0%,#D2B5AA 1.25%,#D0B3A8 2.5%,#CDB1A6 3.75%,#CBAFA4 5%,#C9ADA2 6.25%,#C8ABA0 7.5%,#C6AA9F 8.75%,#675751 90%,#665751 91.25%,#665650 92.5%,#65564F 93.75%,#64554F 95%,#64554E 96.25%,#63544D 97.5%,#62544D 98.75%,#62534C 100%)"></i>
<i style="top:225px;background:linear-gradient(90deg,#D4B8AC 0%,#D2B5AA 1.25%,#D0B3A8 2.5%,#CEB1A6 3.75%,#CBAFA4 5%,#C9ADA2 6.25%,#C8ABA0 7.5%,#C6A99F 8.75%,#675751 90%,#665650 91.25%,#655650 92.5%,#65554F 93.75%,#64554E 95%,#63554E 96.25%,#63544D 97.5%,#62544C 98.75%,#61534C 100%)"></i>
<i style="top:230px;background:linear-gradient(90deg,#D4B8AC 0%,#D2B6AB 1.25%,#D0B3A8 2.5%,#CEB1A6 3.75%,#CCAFA4 5%,#C9ADA2 6.25%,#C8ABA0 7.5%,#C6A99F 8.75%,#665751 90%,#665650 91.25%,#655650 92.5%,#64554F 93.75%,#64554E 95%,#63544E 96.25%,#62544D 97.5%,#62534C 98.75%,#61534C 100%)"></i>
<i style="top:235px;background:linear-gradient(90deg,#D4B8AD 0%,#D2B6AB 1.25%,#D0B4A9 2.5%,#CEB1A6 3.75%,#CCAFA4 5%,#C9ADA2 6.25%,#C8ABA1 7.5%,#C6A99F 8.75%,#665751 90%,#655650 91.25%,#65564F 92.5%,#64554F 93.75%,#63554E 95%,#63544E 96.25%,#62544D 97.5%,#61534C 98.75%,#61534C 100%)"></i>
<i style="top:240px;background:linear-gradient(90deg,#D4B8AD 0%,#D3B6AB 1.25%,#D0B4A9 2.5%,#CEB2A7 3.75%,#CCAFA5 5%,#CAADA2 6.25%,#C8ABA1 7.5%,#C6A99F 8.75%,#665751 90%,#655650 91.25%,#64554F 92.5%,#64554F 93.75%,#63544E 95%,#62544D 96.25%,#62534D 97.5%,#61534C 98.75%,#61534C 100%)"></i>
<i style="top:245px;background:linear-gradient(90deg,#D4B8AD 0%,#D3B6AB 1.25%,#D0B4A9 2.5%,#CEB2A7 3.75%,#CCAFA5 5%,#CAADA3 6.25%,#C8ABA1 7.5%,#C6A99F 8.75%,#665651 90%,#655650 91.25%,#64554F 92.5%,#64554F 93.75%,#63544E 95%,#62544D 96.25%,#62534D 97.5%,#61534C 98.75%,#60524B 100%)"></i>
<i style="top:250px;background:linear-gradient(90deg,#D4B8AD 0%,#D2B6AB 1.25%,#D0B4A9 2.5%,#CEB2A7 3.75%,#CCB0A5 5%,#CAADA3 6.25%,#C7ABA1 7.5%,#C6A99F 8.75%,#655651 90%,#655650 91.25%,#64554F 92.5%,#63544F 93.75%,#63544E 95%,#62544D 96.25%,#61534D 97.5%,#61534C 98.75%,#60524B 100%)"></i>
<i style="top:255px;background:linear-gradient(90deg,#D4B8AC 0%,#D2B6AB 1.25%,#D0B4A9 2.5%,#CEB2A7 3.75%,#CCB0A5 5%,#CAADA3 6.25%,#C7ABA1 7.5%,#C5A99F 8.75%,#655650 90%,#645650 91.25%,#64554F 92.5%,#63544E 93.75%,#62544E 95%,#62534D 96.25%,#61534C 97.5%,#60524C 98.75%,#60524B 100%)"></i>
<i style="top:260px;background:linear-gradient(90deg,#D3B7AC 0%,#D2B6AB 1.25%,#D0B4A9 2.5%,#CEB2A7 3.75%,#CCB0A5 5%,#CAADA3 6.25%,#C7ABA1 7.5%,#C5A99F 8.75%,#655650 90%,#645550 91.25%,#63554F 92.5%,#63544E 93.75%,#62544E 95%,#61534D 96.25%,#61534C 97.5%,#60524C 98.75%,#60524B 100%)"></i>
<i style="top:265px;background:linear-gradient(90deg,#D3B7AC 0%,#D2B6AB 1.25%,#D0B4A9 2.5%,#CEB2A7 3.75%,#CCB0A5 5%,#CAADA3 6.25%,#C7ABA1 7.5%,#C5A99F 8.75%,#655650 90%,#645550 91.25%,#63554F 92.5%,#62544E 93.75%,#62544E 95%,#61534D 96.25%,#60534C 97.5%,#60524C 98.75%,#5F524B 100%)"></i>
<i style="top:270px;background:linear-gradient(90deg,#D2B6AB 0%,#D1B5AA 1.25%,#D0B4A9 2.5%,#CEB2A7 3.75%,#CCAFA5 5%,#C9ADA3 6.25%,#C7ABA1 7.5%,#C5A99F 8.75%,#655650 90%,#64554F 91.25%,#63554F 92.5%,#62544E 93.75%,#61534D 95%,#61534D 96.25%,#60524C 97.5%,#60524C 98.75%,#5F524B 100%)"></i>
<i style="top:275px;background:linear-gradient(90deg,#D1B5AA 0%,#D0B5AA 1.25%,#CFB3A8 2.5%,#CDB1A7 3.75%,#CBAFA5 5%,#C9ADA3 6.25%,#C7ABA1 7.5%,#C5A99F 8.75%,#645650 90%,#63554F 91.25%,#63554F 92.5%,#62544E 93.75%,#61534D 95%,#60534D 96.25%,#60524C 97.5%,#5F524B 98.75%,#5F514B 100%)"></i>
<i style="top:280px;background:linear-gradient(90deg,#D0B4A9 0%,#D0B4A9 1.25%,#CFB3A8 2.5%,#CDB1A6 3.75%,#CBAFA5 5%,#C9ADA3 6.25%,#C7ABA1 7.5%,#C5A99F 8.75%,#645650 90%,#63554F 91.25%,#62544F 92.5%,#62544E 93.75%,#61534D 95%,#60534D 96.25%,#60524C 97.5%,#5F524B 98.75%,#5E514B 100%)"></i>
<i style="top:285px;background:linear-gradient(90deg,#CEB3A8 0%,#CFB3A8 1.25%,#CEB2A7 2.5%,#CCB1A6 3.75%,#CAAFA4 5%,#C8ADA2 6.25%,#C6ABA0 7.5%,#C4A89E 8.75%,#645650 90%,#63554F 91.25%,#62544F 92.5%,#61544E 93.75%,#61534D 95%,#60534D 96.25%,#5F524C 97.5%,#5F524B 98.75%,#5E514B 100%)"></i>
<i style="top:290px;background:linear-gradient(90deg,#CCB1A6 0%,#CDB2A7 1.25%,#CDB1A7 2.5%,#CCB0A5 3.75%,#CAAEA4 5%,#C8ACA2 6.25%,#C6AAA0 7.5%,#C4A89E 8.75%,#645650 90%,#63554F 91.25%,#62544E 92.5%,#61544E 93.75%,#60534D 95%,#60524C 96.25%,#5F524C 97.5%,#5E514B 98.75%,#5E514B 100%)"></i>
<i style="top:295px;background:linear-gradient(90deg,#CAB0A4 0%,#CCB1A5 1.25%,#CCB0A5 2.5%,#CBAFA4 3.75%,#C9AEA3 5%,#C7ACA1 6.25%,#C5AAA0 7.5%,#C3A89E 8.75%,#645650 90%,#63554F 91.25%,#62544E 92.5%,#61544E 93.75%,#60534D 95%,#5F524C 96.25%,#5F524C 97.5%,#5E514B 98.75%,#5E514A 100%)"></i>
<i style="top:300px;background:linear-gradient(90deg,#C8AEA2 0%,#C9AFA4 1.25%,#CAAFA4 2.5%,#C9AEA3 3.75%,#C8ADA2 5%,#C6ABA1 6.25%,#C5A99F 7.5%,#C3A79D 8.75%,#645650 90%,#63554F 91.25%,#62544E 92.5%,#61544E 93.75%,#60534D 95%,#5F524C 96.25%,#5F524C 97.5%,#5E514B 98.75%,#5D514A 100%)"></i>
<i style="top:305px;background:linear-gradient(90deg,#C5ABA0 0%,#C7ADA1 1.25%,#C8ADA2 2.5%,#C8ADA2 3.75%,#C7ACA1 5%,#C5AAA0 6.25%,#C4A99E 7.5%,#C2A79D 8.75%,#645650 90%,#63554F 91.25%,#62544E 92.5%,#61544E 93.75%,#60534D 95%,#5F524C 96.25%,#5E524C 97.5%,#5E514B 98.75%,#5D514A 100%)"></i>
<i style="top:310px;background:linear-gradient(90deg,#C3A99E 0%,#C4AA9F 1.25%,#C6ABA0 2.5%,#C6ABA1 3.75%,#C6ABA0 5%,#C4A99F 6.25%,#C3A89E 7.5%,#C1A69C 8.75%,#645650 90%,#63554F 91.25%,#62544E 92.5%,#61544E 93.75%,#60534D 95%,#5F524C 96.25%,#5E524C 97.5%,#5E514B 98.75%,#5D514A 100%)"></i>
<i style="top:315px;background:linear-gradient(90deg,#C0A79B 0%,#C1A89D 1.25%,#C3A99E 2.5%,#C4AA9F 3.75%,#C4A99F 5%,#C3A89E 6.25%,#C2A79D 7.5%,#C0A59B 8.75%,#635650 90%,#63554F 91.25%,#62544E 92.5%,#61544E 93.75%,#60534D 95%,#5F524C 96.25%,#5E524B 97.5%,#5D514B 98.75%,#5D504A 100%)"></i>
<i style="top:320px;background:linear-gradient(90deg,#BDA599 0%,#BFA69A 1.25%,#C0A79C 2.5%,#C2A89D 3.75%,#C2A89D 5%,#C1A79D 6.25%,#C0A69C 7.5%,#BFA49A 8.75%,#635650 90%,#62554F 91.25%,#62544E 92.5%,#61544D 93.75%,#60534D 95%,#5F524C 96.25%,#5E524B 97.5%,#5D514B 98.75%,#5D504A 100%)"></i>
<i style="top:325px;background:linear-gradient(90deg,#BBA297 0%,#BCA398 1.25%,#BDA499 2.5%,#BFA59A 3.75%,#C0A69B 5%,#C0A59B 6.25%,#BFA49A 7.5%,#BEA399 8.75%,#635650 90%,#62554F 91.25%,#61544E 92.5%,#61544D 93.75%,#60534D 95%,#5F524C 96.25%,#5E524B 97.5%,#5D514B 98.75%,#5C504A 100%)"></i>
<i style="top:330px;background:linear-gradient(90deg,#B8A095 0%,#B9A195 1.25%,#BBA296 2.5%,#BCA398 3.75%,#BDA499 5%,#BEA499 6.25%,#BDA399 7.5%,#BDA298 8.75%,#63564F 90%,#62554F 91.25%,#61544E 92.5%,#61544D 93.75%,#60534D 95%,#5F524C 96.25%,#5E524B 97.5%,#5D514B 98.75%,#5C504A 100%)"></i>
<i style="top:335px;background:linear-gradient(90deg,#B69E93 0%,#B79F93 1.25%,#B89F94 2.5%,#B9A095 3.75%,#BBA197 5%,#BBA297 6.25%,#BBA197 7.5%,#BBA197 8.75%,#63564F 90%,#62554F 91.25%,#61544E 92.5%,#60544D 93.75%,#60534D 95%,#5F524C 96.25%,#5E524B 97.5%,#5D514B 98.75%,#5C504A 100%)"></i>
<i style="top:340px;background:linear-gradient(90deg,#B49C91 0%,#B49C91 1.25%,#B59D92 2.5%,#B69E93 3.75%,#B89F94 5%,#B9A095 6.25%,#B9A096 7.5%,#B99F95 8.75%,#63564F 90%,#62554F 91.25%,#61544E 92.5%,#60544D 93.75%,#60534D 95%,#5F524C 96.25%,#5E524B 97.5%,#5D514B 98.75%,#5C504A 100%)"></i>
<i style="top:345px;background:linear-gradient(90deg,#B39B90 0%,#B29A8F 1.25%,#B39B90 2.5%,#B49B90 3.75%,#B59C92 5%,#B69D93 6.25%,#B79E94 7.5%,#B79E94 8.75%,#63564F 90%,#62554F 91.25%,#61544E 92.5%,#60544D 93.75%,#5F534D 95%,#5F524C 96.25%,#5E524B 97.5%,#5D514B 98.75%,#5C504A 100%)"></i>
<i style="top:350px;background:linear-gradient(90deg,#B1998E 0%,#B0998E 1.25%,#B0998E 2.5%,#B1998E 3.75%,#B29A8F 5%,#B49B91 6.25%,#B59C92 7.5%,#B59C92 8.75%,#63564F 90%,#62554F 91.25%,#61544E 92.5%,#60544D 93.75%,#5F534D 95%,#5F524C 96.25%,#5E524B 97.5%,#5D514B 98.75%,#5C504A 100%)"></i>
<i style="top:355px;background:linear-gradient(90deg,#B0988D 0%,#AF978C 1.25%,#AE978C 2.5%,#AF978C 3.75%,#B0988D 5%,#B1998E 6.25%,#B39A90 7.5%,#B39A90 8.75%,#63564F 90%,#62554F 91.25%,#61544E 92.5%,#60544D 93.75%,#5F534D 95%,#5F524C 96.25%,#5E524B 97.5%,#5D514B 98.75%,#5C504A 100%)"></i>
<i style="top:360px;background:linear-gradient(90deg,#AE978C 0%,#AD968B 1.25%,#AD958B 2.5%,#AD958A 3.75%,#AD958B 5%,#AF968C 6.25%,#B0978D 7.5%,#B1988E 8.75%,#63564F 90%,#62554F 91.25%,#61544E 92.5%,#60544D 93.75%,#5F534D 95%,#5F524C 96.25%,#5E524B 97.5%,#5D514B 98.75%,#5C504A 100%)"></i>
<i style="top:365px;background:linear-gradient(90deg,#AD968B 0%,#AC948A 1.25%,#AB9389 2.5%,#AB9389 3.75%,#AB9389 5%,#AC948A 6.25%,#AE958B 7.5%,#AF968C 8.75%,#63564F 90%,#62554F 91.25%,#61544E 92.5%,#60544D 93.75%,#5F534D 95%,#5F524C 96.25%,#5E524B 97.5%,#5D514B 98.75%,#5C504A 100%)"></i>
<i style="top:370px;background:linear-gradient(90deg,#AD958B 0%,#AB9389 1.25%,#AA9288 2.5%,#A99187 3.75%,#A99187 5%,#AA9288 6.25%,#AB9389 7.5%,#AD948A 8.75%,#63564F 90%,#62554E 91.25%,#61544E 92.5%,#60544D 93.75%,#5F534D 95%,#5F524C 96.25%,#5E524B 97.5%,#5D514B 98.75%,#5C504A 100%)"></i>
<i style="top:375px;background:linear-gradient(90deg,#AC948A 0%,#AA9288 1.25%,#A99187 2.5%,#A89086 3.75%,#A78F86 5%,#A89086 6.25%,#A99187 7.5%,#AA9288 8.75%,#63564F 90%,#62554E 91.25%,#61544E 92.5%,#60544D 93.75%,#5F534D 95%,#5F524C 96.25%,#5E524B 97.5%,#5D514B 98.75%,#5C504A 100%)"></i>
<i style="top:380px;background:linear-gradient(90deg,#AC938A 0%,#A99288 1.25%,#A89086 2.5%,#A68F85 3.75%,#A68E85 5%,#A68E85 6.25%,#A78F86 7.5%,#A89087 8.75%,#63564F 90%,#62554E 91.25%,#61544E 92.5%,#60544D 93.75%,#5F534D 95%,#5F524C 96.25%,#5E524B 97.5%,#5D514B 98.75%,#5C514A 100%)"></i>
<i style="top:385px;background:linear-gradient(90deg,#AB9389 0%,#A99187 1.25%,#A78F86 2.5%,#A58E85 3.75%,#A58D84 5%,#A48C83 6.25%,#A58D84 7.5%,#A68E85 8.75%,#63564F 90%,#62554E 91.25%,#61544E 92.5%,#60544D 93.75%,#5F534D 95%,#5F534C 96.25%,#5E524B 97.5%,#5D514B 98.75%,#5C514A 100%)"></i>
<i style="top:390px;background:linear-gradient(90deg,#AB9289 0%,#A99187 1.25%,#A68F85 2.5%,#A58D84 3.75%,#A48C83 5%,#A38B82 6.25%,#A38B83 7.5%,#A48C83 8.75%,#63554F 90%,#62554E 91.25%,#61544E 92.5%,#60544D 93.75%,#5F534D 95%,#5F534C 96.25%,#5E524B 97.5%,#5D514B 98.75%,#5C514A 100%)"></i>
<i style="top:395px;background:linear-gradient(90deg,#AB9289 0%,#A99087 1.25%,#A68E85 2.5%,#A48C83 3.75%,#A38B82 5%,#A28A81 6.25%,#A28A81 7.5%,#A38A82 8.75%,#63554F 90%,#62554E 91.25%,#61544E 92.5%,#60544D 93.75%,#5F534C 95%,#5F534C 96.25%,#5E524B 97.5%,#5D514B 98.75%,#5C514A 100%)"></i>
<i style="top:400px;background:linear-gradient(90deg,#AB9288 0%,#A99087 1.25%,#A78E85 2.5%,#A48C83 3.75%,#A28A82 5%,#A18981 6.25%,#A18980 7.5%,#A18981 8.75%,#63554F 90%,#62554E 91.25%,#61544E 92.5%,#60544D 93.75%,#5F534C 95%,#5F534C 96.25%,#5E524B 97.5%,#5D514B 98.75%,#5C514A 100%)"></i>
<i style="top:405px;background:linear-gradient(90deg,#AB9188 0%,#A99087 1.25%,#A78E85 2.5%,#A48C83 3.75%,#A28A81 5%,#A18980 6.25%,#A08880 7.5%,#A0887F 8.75%,#63554F 90%,#62554E 91.25%,#61544E 92.5%,#60544D 93.75%,#5F534C 95%,#5F534C 96.25%,#5E524B 97.5%,#5D514B 98.75%,#5C514A 100%)"></i>
<i style="top:410px;background:linear-gradient(90deg,#AA9188 0%,#AA9087 1.25%,#A78E85 2.5%,#A48C83 3.75%,#A28A81 5%,#A08880 6.25%,#9F877F 7.5%,#9F877F 8.75%,#63554F 90%,#62554E 91.25%,#61544E 92.5%,#60544D 93.75%,#5F534C 95%,#5F534C 96.25%,#5E524B 97.5%,#5D514B 98.75%,#5C514A 100%)"></i>
<i style="top:415px;background:linear-gradient(90deg,#A99087 0%,#A98F87 1.25%,#A88E85 2.5%,#A58C83 3.75%,#A28981 5%,#A08880 6.25%,#9F867E 7.5%,#9E867E 8.75%,#63554F 90%,#62554E 91.25%,#61544E 92.5%,#60544D 93.75%,#5F534C 95%,#5F534C 96.25%,#5E524B 97.5%,#5D524B 98.75%,#5C514A 100%)"></i>
<i style="top:420px;background:linear-gradient(90deg,#A88F86 0%,#A98F86 1.25%,#A88E85 2.5%,#A58C83 3.75%,#A38981 5%,#A0877F 6.25%,#9E867E 7.5%,#9D857D 8.75%,#62554F 90%,#62554E 91.25%,#61544E 92.5%,#60544D 93.75%,#5F534C 95%,#5F534C 96.25%,#5E524B 97.5%,#5D524B 98.75%,#5C514A 100%)"></i>
<i style="top:425px;background:linear-gradient(90deg,#A68E85 0%,#A88E86 1.25%,#A88D85 2.5%,#A68C83 3.75%,#A38981 5%,#A0877F 6.25%,#9E867E 7.5%,#9D847D 8.75%,#62554E 90%,#62544E 91.25%,#61544D 92.5%,#60544D 93.75%,#5F534C 95%,#5F534C 96.25%,#5E524B 97.5%,#5D524B 98.75%,#5C514A 100%)"></i>
<i style="top:430px;background:linear-gradient(90deg,#A48D84 0%,#A78D85 1.25%,#A88D85 2.5%,#A68C83 3.75%,#A38981 5%,#A0877F 6.25%,#9E857E 7.5%,#9C847C 8.75%,#62554E 90%,#62544E 91.25%,#61544D 92.5%,#60544D 93.75%,#5F534C 95%,#5F534C 96.25%,#5E524B 97.5%,#5D524B 98.75%,#5C514A 100%)"></i>
<i style="top:435px;background:linear-gradient(90deg,#A28B83 0%,#A58C84 1.25%,#A78C84 2.5%,#A68B83 3.75%,#A48981 5%,#A1877F 6.25%,#9E857E 7.5%,#9C847C 8.75%,#62554E 90%,#61544E 91.25%,#61544D 92.5%,#60544D 93.75%,#5F534C 95%,#5F534C 96.25%,#5E524B 97.5%,#5D524B 98.75%,#5C514A 100%)"></i>
<i style="top:440px;background:linear-gradient(90deg,#9F8A81 0%,#A28B82 1.25%,#A58B83 2.5%,#A68B83 3.75%,#A48981 5%,#A1877F 6.25%,#9E857D 7.5%,#9C837C 8.75%,#62544E 90%,#61544E 91.25%,#61544D 92.5%,#60544D 93.75%,#5F534C 95%,#5F534C 96.25%,#5E524B 97.5%,#5D524B 98.75%,#5C514A 100%)"></i>
<i style="top:445px;background:linear-gradient(90deg,#9C887F 0%,#9F8980 1.25%,#A38A82 2.5%,#A58A82 3.75%,#A38981 5%,#A1877F 6.25%,#9E857D 7.5%,#9C837C 8.75%,#62544E 90%,#61544E 91.25%,#61544D 92.5%,#60534D 93.75%,#5F534C 95%,#5F534C 96.25%,#5E524B 97.5%,#5D524B 98.75%,#5C514A 100%)"></i>
<i style="top:450px;background:linear-gradient(90deg,#9A877E 0%,#9C877F 1.25%,#9F8880 2.5%,#A38981 3.75%,#A38881 5%,#A1877F 6.25%,#9E857D 7.5%,#9C837C 8.75%,#62544E 90%,#61544E 91.25%,#61544D 92.5%,#60534D 93.75%,#5F534C 95%,#5F534C 96.25%,#5E524B 97.5%,#5D524B 98.75%,#5C514A 100%)"></i>
<i style="top:455px;background:linear-gradient(90deg,#98857D 0%,#99857D 1.25%,#9B867E 2.5%,#A08780 3.75%,#A18880 5%,#A0867F 6.25%,#9E847D 7.5%,#9C837B 8.75%,#62544E 90%,#61544D 91.25%,#60534D 92.5%,#60534D 93.75%,#5F534C 95%,#5F534C 96.25%,#5E524B 97.5%,#5D524B 98.75%,#5C514A 100%)"></i>
<i style="top:460px;background:linear-gradient(90deg,#96847B 0%,#96847B 1.25%,#98847C 2.5%,#9C857D 3.75%,#9F867F 5%,#9F867E 6.25%,#9D847D 7.5%,#9B827B 8.75%,#61544E 90%,#61544D 91.25%,#60534D 92.5%,#60534D 93.75%,#5F534C 95%,#5F534C 96.25%,#5E524B 97.5%,#5D524B 98.75%,#5C514A 100%)"></i>
<i style="top:465px;background:linear-gradient(90deg,#95837A 0%,#94827A 1.25%,#95827A 2.5%,#98837B 3.75%,#9C857D 5%,#9D857D 6.25%,#9C837C 7.5%,#9B827B 8.75%,#61544E 90%,#61534D 91.25%,#60534D 92.5%,#60534C 93.75%,#5F534C 95%,#5F534C 96.25%,#5E524B 97.5%,#5D524B 98.75%,#5C514A 100%)"></i>
<i style="top:470px;background:linear-gradient(90deg,#938279 0%,#938179 1.25%,#938179 2.5%,#948179 3.75%,#98837B 5%,#9B837C 6.25%,#9B837B 7.5%,#9A817A 8.75%,#61534E 90%,#61534D 91.25%,#60534D 92.5%,#60534C 93.75%,#5F534C 95%,#5E534C 96.25%,#5E524B 97.5%,#5D524B 98.75%,#5C514A 100%)"></i>
<i style="top:475px;background:linear-gradient(90deg,#928178 0%,#928078 1.25%,#918078 2.5%,#928078 3.75%,#958179 5%,#98827A 6.25%,#99827A 7.5%,#99817A 8.75%,#61534D 90%,#61534D 91.25%,#60534D 92.5%,#60534C 93.75%,#5F534C 95%,#5E524C 96.25%,#5E524B 97.5%,#5D524B 98.75%,#5C514A 100%)"></i>
<i style="top:480px;background:linear-gradient(90deg,#918077 0%,#907F77 1.25%,#907F77 2.5%,#907F77 3.75%,#927F78 5%,#958079 6.25%,#978179 7.5%,#978079 8.75%,#61534D 90%,#60534D 91.25%,#60534D 92.5%,#5F534C 93.75%,#5F534C 95%,#5E524C 96.25%,#5E524B 97.5%,#5D524B 98.75%,#5C514A 100%)"></i>
<i style="top:485px;background:linear-gradient(90deg,#907F76 0%,#907E76 1.25%,#8F7E76 2.5%,#8F7D76 3.75%,#907E76 5%,#937F77 6.25%,#957F78 7.5%,#967F78 8.75%,#61534D 90%,#60534D 91.25%,#60534D 92.5%,#5F534C 93.75%,#5F524C 95%,#5E524B 96.25%,#5E524B 97.5%,#5D524B 98.75%,#5C514A 100%)"></i>
<i style="top:490px;background:linear-gradient(90deg,#907E76 0%,#8F7D75 1.25%,#8E7D75 2.5%,#8E7C74 3.75%,#8E7D75 5%,#907D76 6.25%,#937E77 7.5%,#947E77 8.75%,#61534D 90%,#60534D 91.25%,#60524C 92.5%,#5F524C 93.75%,#5F524C 95%,#5E524B 96.25%,#5E524B 97.5%,#5D524B 98.75%,#5C514A 100%)"></i>
<i style="top:495px;background:linear-gradient(90deg,#8F7D75 0%,#8E7C74 1.25%,#8D7C74 2.5%,#8D7B73 3.75%,#8D7B74 5%,#8E7C74 6.25%,#907D75 7.5%,#927D76 8.75%,#61534D 90%,#60524D 91.25%,#60524C 92.5%,#5F524C 93.75%,#5F524C 95%,#5E524B 96.25%,#5E524B 97.5%,#5D524B 98.75%,#5C514A 100%)"></i>
<i style="top:500px;background:linear-gradient(90deg,#8E7D74 0%,#8D7C73 1.25%,#8C7B73 2.5%,#8C7A73 3.75%,#8C7A73 5%,#8D7B73 6.25%,#8E7B74 7.5%,#907C75 8.75%,#61534D 90%,#60524D 91.25%,#5F524C 92.5%,#5F524C 93.75%,#5F524C 95%,#5E524B 96.25%,#5E524B 97.5%,#5D524B 98.75%,#5C514A 100%)"></i>
<i style="top:505px;background:linear-gradient(90deg,#8E7C73 0%,#8D7B73 1.25%,#8C7A72 2.5%,#8B7A72 3.75%,#8B7972 5%,#8B7A72 6.25%,#8D7A73 7.5%,#8E7B74 8.75%,#61534D 90%,#60524D 91.25%,#5F524C 92.5%,#5F524C 93.75%,#5F524C 95%,#5E524B 96.25%,#5E524B 97.5%,#5D524B 98.75%,#5C514A 100%)"></i>
<i style="top:510px;background:linear-gradient(90deg,#8D7B73 0%,#8C7A72 1.25%,#8B7971 2.5%,#8A7971 3.75%,#8A7871 5%,#8A7971 6.25%,#8B7972 7.5%,#8D7A73 8.75%,#61534D 90%,#60524D 91.25%,#5F524C 92.5%,#5F524C 93.75%,#5F524C 95%,#5E524B 96.25%,#5E524B 97.5%,#5D524B 98.75%,#5C514A 100%)"></i>
<i style="top:515px;background:linear-gradient(90deg,#8D7B72 0%,#8C7A71 1.25%,#8B7971 2.5%,#8A7870 3.75%,#897870 5%,#897870 6.25%,#8A7871 7.5%,#8B7871 8.75%,#61534D 90%,#60524D 91.25%,#5F524C 92.5%,#5F524C 93.75%,#5E524C 95%,#5E524B 96.25%,#5E524B 97.5%,#5D524B 98.75%,#5C524A 100%)"></i>
<i style="top:520px;background:linear-gradient(90deg,#8C7A72 0%,#8B7971 1.25%,#8A7870 2.5%,#89776F 3.75%,#89776F 5%,#88776F 6.25%,#89776F 7.5%,#8A7770 8.75%,#61534D 90%,#60524D 91.25%,#5F524C 92.5%,#5F524C 93.75%,#5E524C 95%,#5E524B 96.25%,#5E524B 97.5%,#5D524B 98.75%,#5C524A 100%)"></i>
<i style="top:525px;background:linear-gradient(90deg,#8C7A71 0%,#8B7970 1.25%,#8A786F 2.5%,#89776F 3.75%,#88766E 5%,#88766E 6.25%,#88766E 7.5%,#89766F 8.75%,#61534D 90%,#60524D 91.25%,#5F524C 92.5%,#5F524C 93.75%,#5E524C 95%,#5E524B 96.25%,#5E524B 97.5%,#5D524B 98.75%,#5D524A 100%)"></i>
<i style="top:530px;background:linear-gradient(90deg,#8B7971 0%,#8A7870 1.25%,#89776F 2.5%,#88766E 3.75%,#87756E 5%,#87756D 6.25%,#87756D 7.5%,#87756E 8.75%,#61534D 90%,#60534D 91.25%,#5F524C 92.5%,#5F524C 93.75%,#5E524C 95%,#5E524B 96.25%,#5E524B 97.5%,#5D524B 98.75%,#5D524A 100%)"></i>
<i style="top:535px;background:linear-gradient(90deg,#8B7970 0%,#8A786F 1.25%,#89776E 2.5%,#88766D 3.75%,#87756D 5%,#86746C 6.25%,#86746C 7.5%,#86746D 8.75%,#61544E 90%,#60534D 91.25%,#5F524C 92.5%,#5F524C 93.75%,#5E524C 95%,#5E524B 96.25%,#5E524B 97.5%,#5D524B 98.75%,#5D524A 100%)"></i>
<i style="top:540px;background:linear-gradient(90deg,#8A7970 0%,#89776F 1.25%,#88766E 2.5%,#87756D 3.75%,#86746C 5%,#86736C 6.25%,#85736C 7.5%,#85736C 8.75%,#61544E 90%,#61534D 91.25%,#60534C 92.5%,#5F524C 93.75%,#5F524C 95%,#5E524B 96.25%,#5E524B 97.5%,#5D524B 98.75%,#5D524A 100%)"></i>
<i style="top:545px;background:linear-gradient(90deg,#8A786F 0%,#89776E 1.25%,#88766D 2.5%,#87756C 3.75%,#86746C 5%,#85736B 6.25%,#85726B 7.5%,#85726B 8.75%,#61544E 90%,#61534D 91.25%,#60534D 92.5%,#5F534C 93.75%,#5F524C 95%,#5E524C 96.25%,#5E524B 97.5%,#5D524B 98.75%,#5D524A 100%)"></i>
<i style="top:550px;background:linear-gradient(90deg,#89786F 0%,#88776E 1.25%,#87756D 2.5%,#86746C 3.75%,#85736B 5%,#84726A 6.25%,#84726A 7.5%,#84716A 8.75%,#62544E 90%,#61544D 91.25%,#60534D 92.5%,#5F534C 93.75%,#5F534C 95%,#5E534C 96.25%,#5E524B 97.5%,#5D524B 98.75%,#5D524A 100%)"></i>
<i style="top:555px;background:linear-gradient(90deg,#89786F 0%,#88766E 1.25%,#87756C 2.5%,#86746B 3.75%,#85736B 5%,#84726A 6.25%,#837169 7.5%,#837169 8.75%,#62544E 90%,#61544D 91.25%,#60544D 92.5%,#60534C 93.75%,#5F534C 95%,#5F534C 96.25%,#5E534B 97.5%,#5E524B 98.75%,#5D524A 100%)"></i>
<i style="top:560px;background:linear-gradient(90deg,#89776E 0%,#87766D 1.25%,#86756C 2.5%,#85746B 3.75%,#84726A 5%,#837169 6.25%,#837069 7.5%,#827068 8.75%,#827068 10%,#837069 11.25%,#84716A 12.5%,#84726C 13.75%,#85726C 15%,#84716B 16.25%,#83706A 17.5%,#826E68 18.75%,#816D67 20%,#816D66 21.25%,#816D66 22.5%,#806D66 23.75%,#7F6C65 25%,#7E6B64 26.25%,#7C6A63 27.5%,#7B6962 28.75%,#7A6861 30%,#796760 31.25%,#78665F 32.5%,#77655E 33.75%,#77655E 35%,#77655E 36.25%,#78655E 37.5%,#7A675F 38.75%,#7B6861 40%,#7C6962 41.25%,#7C6962 42.5%,#7B6861 43.75%,#786760 45%,#75645D 46.25%,#72625B 47.5%,#706059 48.75%,#6E5E57 50%,#6D5D56 51.25%,#6C5D56 52.5%,#6C5C55 53.75%,#6B5B54 55%,#6B5A53 56.25%,#6A5A53 57.5%,#6A5952 58.75%,#695952 60%,#695851 61.25%,#685851 62.5%,#685851 63.75%,#675750 65%,#665750 66.25%,#665750 67.5%,#65564F 68.75%,#65564F 70%,#64564F 71.25%,#64564F 72.5%,#63564F 73.75%,#63564F 75%,#63564F 76.25%,#63564F 77.5%,#63564F 78.75%,#63564F 80%,#63564F 81.25%,#63564F 82.5%,#63564F 83.75%,#63564F 85%,#63564F 86.25%,#63554F 87.5%,#62554E 88.75%,#62554E 90%,#61544D 91.25%,#60544D 92.5%,#60534D 93.75%,#5F534C 95%,#5F534C 96.25%,#5E534C 97.5%,#5E534B 98.75%,#5D524B 100%)"></i>
<i style="top:565px;background:linear-gradient(90deg,#88776E 0%,#87766D 1.25%,#86746C 2.5%,#85736B 3.75%,#84726A 5%,#837169 6.25%,#827068 7.5%,#826F68 8.75%,#826F67 10%,#826F68 11.25%,#837069 12.5%,#83716B 13.75%,#84726C 15%,#84716B 16.25%,#82706A 17.5%,#816E68 18.75%,#806C66 20%,#806C66 21.25%,#806C65 22.5%,#7F6C65 23.75%,#7F6B64 25%,#7D6B63 26.25%,#7C6A62 27.5%,#7A6861 28.75%,#796760 30%,#78665F 31.25%,#77655E 32.5%,#76645D 33.75%,#76645D 35%,#76635C 36.25%,#77645D 37.5%,#78655E 38.75%,#79665F 40%,#7A6860 41.25%,#7B6861 42.5%,#7B6861 43.75%,#786760 45%,#75645D 46.25%,#72625A 47.5%,#6F5F58 48.75%,#6D5E57 50%,#6C5D56 51.25%,#6C5C55 52.5%,#6B5B54 53.75%,#6A5B53 55%,#6A5A53 56.25%,#695952 57.5%,#695952 58.75%,#695851 60%,#685851 61.25%,#685750 62.5%,#675750 63.75%,#665750 65%,#66564F 66.25%,#65564F 67.5%,#65564F 68.75%,#64564F 70%,#63554E 71.25%,#63554E 72.5%,#63554E 73.75%,#63554E 75%,#63554E 76.25%,#63554E 77.5%,#63554E 78.75%,#63554F 80%,#63554F 81.25%,#63564F 82.5%,#63564F 83.75%,#63564F 85%,#63554F 86.25%,#63554E 87.5%,#62554E 88.75%,#62554E 90%,#61544D 91.25%,#61544D 92.5%,#60544D 93.75%,#60534C 95%,#5F534C 96.25%,#5F534C 97.5%,#5E534B 98.75%,#5D534B 100%)"></i>
<i style="top:570px;background:linear-gradient(90deg,#88776D 0%,#87756C 1.25%,#85746B 2.5%,#84736A 3.75%,#837269 5%,#827068 6.25%,#826F68 7.5%,#816F67 8.75%,#816E67 10%,#816E67 11.25%,#826F68 12.5%,#827069 13.75%,#83716B 15%,#83716B 16.25%,#826F6A 17.5%,#806E68 18.75%,#7F6C66 20%,#7E6B65 21.25%,#7E6B65 22.5%,#7F6B64 23.75%,#7E6B64 25%,#7D6A63 26.25%,#7B6962 27.5%,#7A6861 28.75%,#786760 30%,#77665F 31.25%,#76655E 32.5%,#75645D 33.75%,#75635C 35%,#75625B 36.25%,#75635C 37.5%,#76645D 38.75%,#78655E 40%,#79665F 41.25%,#7A6760 42.5%,#7A6760 43.75%,#78665F 45%,#75645D 46.25%,#72615A 47.5%,#6F5F58 48.75%,#6D5D56 50%,#6B5C55 51.25%,#6B5B54 52.5%,#6A5B54 53.75%,#695A53 55%,#695952 56.25%,#695952 57.5%,#685851 58.75%,#685851 60%,#685750 61.25%,#675750 62.5%,#66564F 63.75%,#66564F 65%,#65564F 66.25%,#65564F 67.5%,#64554E 68.75%,#63554E 70%,#63554E 71.25%,#62554E 72.5%,#62554E 73.75%,#62554E 75%,#62554E 76.25%,#62554E 77.5%,#62554E 78.75%,#62554E 80%,#62554E 81.25%,#62554E 82.5%,#63554E 83.75%,#63554E 85%,#63554E 86.25%,#62554E 87.5%,#62554E 88.75%,#62554E 90%,#61544D 91.25%,#61544D 92.5%,#60544D 93.75%,#60544C 95%,#5F544C 96.25%,#5F534C 97.5%,#5E534B 98.75%,#5D534B 100%)"></i>
<i style="top:575px;background:linear-gradient(90deg,#87766D 0%,#86756C 1.25%,#85746B 2.5%,#84736A 3.75%,#837169 5%,#827068 6.25%,#816F67 7.5%,#816E66 8.75%,#806E66 10%,#806D66 11.25%,#806E67 12.5%,#816F68 13.75%,#82706A 15%,#82706A 16.25%,#816F69 17.5%,#806D68 18.75%,#7E6C66 20%,#7D6A64 21.25%,#7D6A64 22.5%,#7E6A64 23.75%,#7D6A63 25%,#7C6A63 26.25%,#7B6962 27.5%,#796860 28.75%,#78665F 30%,#76655E 31.25%,#75645D 32.5%,#74635C 33.75%,#74625B 35%,#73625B 36.25%,#74625B 37.5%,#75625B 38.75%,#76645D 40%,#78655E 41.25%,#79665F 42.5%,#796760 43.75%,#78665F 45%,#75645D 46.25%,#72615A 47.5%,#6E5F58 48.75%,#6C5D56 50%,#6B5B54 51.25%,#6A5B54 52.5%,#695A53 53.75%,#695952 55%,#685952 56.25%,#685851 57.5%,#675851 58.75%,#675750 60%,#675750 61.25%,#66564F 62.5%,#66564F 63.75%,#65564F 65%,#65554E 66.25%,#64554E 67.5%,#63554E 68.75%,#63554E 70%,#62544D 71.25%,#62544D 72.5%,#62544D 73.75%,#61544D 75%,#61544D 76.25%,#61544D 77.5%,#61554E 78.75%,#62554E 80%,#62554E 81.25%,#62554E 82.5%,#62554E 83.75%,#62554E 85%,#62554E 86.25%,#62554E 87.5%,#62554E 88.75%,#61554E 90%,#61544D 91.25%,#61544D 92.5%,#60544D 93.75%,#60544D 95%,#5F544C 96.25%,#5F544C 97.5%,#5E534C 98.75%,#5E534B 100%)"></i>
<i style="top:580px;background:linear-gradient(90deg,#87766D 0%,#86756C 1.25%,#85746B 2.5%,#84726A 3.75%,#837168 5%,#827067 6.25%,#816F67 7.5%,#806E66 8.75%,#806D65 10%,#7F6D65 11.25%,#806D66 12.5%,#806E67 13.75%,#816F68 15%,#827069 16.25%,#816F69 17.5%,#7F6D67 18.75%,#7E6B66 20%,#7D6A64 21.25%,#7C6963 22.5%,#7D6963 23.75%,#7D6A63 25%,#7C6962 26.25%,#7A6861 27.5%,#796760 28.75%,#77665F 30%,#76655E 31.25%,#74645D 32.5%,#74625B 33.75%,#73615B 35%,#72615A 36.25%,#72615A 37.5%,#73615A 38.75%,#75625B 40%,#76645D 41.25%,#77655E 42.5%,#78665F 43.75%,#78665F 45%,#75645D 46.25%,#72615A 47.5%,#6E5F58 48.75%,#6B5C55 50%,#6A5B54 51.25%,#695A53 52.5%,#685952 53.75%,#685952 55%,#675851 56.25%,#675750 57.5%,#675750 58.75%,#665750 60%,#66564F 61.25%,#66564F 62.5%,#65554E 63.75%,#65554E 65%,#64554E 66.25%,#63554E 67.5%,#63544D 68.75%,#62544D 70%,#62544D 71.25%,#61544D 72.5%,#61544D 73.75%,#61544D 75%,#61544D 76.25%,#61544D 77.5%,#61544D 78.75%,#61544D 80%,#61544D 81.25%,#61554E 82.5%,#62554E 83.75%,#62554E 85%,#62554E 86.25%,#62554E 87.5%,#62554E 88.75%,#61554E 90%,#61544D 91.25%,#61544D 92.5%,#60544D 93.75%,#60544D 95%,#5F544C 96.25%,#5F544C 97.5%,#5F544C 98.75%,#5E534B 100%)"></i>
<i style="top:585px;background:linear-gradient(90deg,#86756C 0%,#85746B 1.25%,#84736A 2.5%,#837269 3.75%,#827168 5%,#816F67 6.25%,#806E66 7.5%,#7F6D65 8.75%,#7F6C65 10%,#7F6C65 11.25%,#7F6C65 12.5%,#7F6C66 13.75%,#806E67 15%,#806E68 16.25%,#806E68 17.5%,#7F6D67 18.75%,#7E6B65 20%,#7C6A64 21.25%,#7B6963 22.5%,#7B6962 23.75%,#7C6962 25%,#7B6861 26.25%,#7A6861 27.5%,#786760 28.75%,#77665E 30%,#75645D 31.25%,#74635C 32.5%,#73625B 33.75%,#72615A 35%,#716059 36.25%,#716059 37.5%,#726059 38.75%,#73615A 40%,#74625B 41.25%,#76645D 42.5%,#77645D 43.75%,#77655E 45%,#75645D 46.25%,#72615A 47.5%,#6E5F58 48.75%,#6B5C55 50%,#695A53 51.25%,#685952 52.5%,#675952 53.75%,#675851 55%,#665750 56.25%,#665750 57.5%,#66564F 58.75%,#65564F 60%,#65564F 61.25%,#65554E 62.5%,#64554E 63.75%,#64554E 65%,#63544D 66.25%,#63544D 67.5%,#62544D 68.75%,#62544D 70%,#61534C 71.25%,#61534C 72.5%,#60534C 73.75%,#60534C 75%,#60534C 76.25%,#60534C 77.5%,#60544D 78.75%,#60544D 80%,#61544D 81.25%,#61544D 82.5%,#61544D 83.75%,#61554D 85%,#61554E 86.25%,#61554E 87.5%,#61554E 88.75%,#61554D 90%,#61544D 91.25%,#60544D 92.5%,#60544D 93.75%,#60544C 95%,#5F544C 96.25%,#5F544C 97.5%,#5F544C 98.75%,#5E534B 100%)"></i>
<i style="top:590px;background:linear-gradient(90deg,#86756C 0%,#85746B 1.25%,#84736A 2.5%,#837269 3.75%,#827068 5%,#816F67 6.25%,#806E66 7.5%,#7F6D65 8.75%,#7E6C64 10%,#7E6B64 11.25%,#7E6B64 12.5%,#7E6B65 13.75%,#7F6C66 15%,#7F6D67 16.25%,#7F6E68 17.5%,#7E6D67 18.75%,#7D6B65 20%,#7C6963 21.25%,#7B6862 22.5%,#7A6861 23.75%,#7B6861 25%,#7A6861 26.25%,#796760 27.5%,#78665F 28.75%,#76655E 30%,#75645D 31.25%,#73635C 32.5%,#72625B 33.75%,#716059 35%,#716059 36.25%,#705F58 37.5%,#715F58 38.75%,#726059 40%,#73615A 41.25%,#74625B 42.5%,#75635C 43.75%,#75645D 45%,#74635C 46.25%,#72615A 47.5%,#6E5F58 48.75%,#6B5C55 50%,#695A53 51.25%,#675952 52.5%,#675851 53.75%,#665750 55%,#665750 56.25%,#65564F 57.5%,#65564F 58.75%,#65554E 60%,#64554E 61.25%,#64554E 62.5%,#64544D 63.75%,#63544D 65%,#63544D 66.25%,#62534C 67.5%,#62534C 68.75%,#61534C 70%,#61534C 71.25%,#60534C 72.5%,#60534C 73.75%,#60534C 75%,#5F534C 76.25%,#5F534C 77.5%,#60534C 78.75%,#60534C 80%,#60544C 81.25%,#60544D 82.5%,#61544D 83.75%,#61544D 85%,#61544D 86.25%,#61544D 87.5%,#61544D 88.75%,#61544D 90%,#61544D 91.25%,#60544D 92.5%,#60544D 93.75%,#60544C 95%,#5F544C 96.25%,#5F544C 97.5%,#5F544C 98.75%,#5E544B 100%)"></i>
<i style="top:595px;background:linear-gradient(90deg,#85756B 0%,#84746A 1.25%,#837369 2.5%,#827168 3.75%,#817067 5%,#806F66 6.25%,#7F6E65 7.5%,#7F6D65 8.75%,#7E6C64 10%,#7D6B63 11.25%,#7D6B63 12.5%,#7D6B64 13.75%,#7E6B65 15%,#7E6C66 16.25%,#7E6D67 17.5%,#7E6C66 18.75%,#7D6B65 20%,#7B6963 21.25%,#7A6862 22.5%,#7A6761 23.75%,#7A6760 25%,#796760 26.25%,#78665F 27.5%,#77665F 28.75%,#76655E 30%,#74635C 31.25%,#73625B 32.5%,#72615A 33.75%,#716059 35%,#705F58 36.25%,#6F5E57 37.5%,#705E57 38.75%,#705F58 40%,#716059 41.25%,#73615A 42.5%,#74625B 43.75%,#74635C 45%,#74625B 46.25%,#71615A 47.5%,#6E5E58 48.75%,#6B5C55 50%,#685A53 51.25%,#675851 52.5%,#665851 53.75%,#655750 55%,#65564F 56.25%,#64564F 57.5%,#64554E 58.75%,#64554E 60%,#64544D 61.25%,#63544D 62.5%,#63544D 63.75%,#63534C 65%,#62534C 66.25%,#62534C 67.5%,#61534C 68.75%,#61534C 70%,#60524B 71.25%,#60524B 72.5%,#5F524B 73.75%,#5F524B 75%,#5F524B 76.25%,#5F534B 77.5%,#5F534C 78.75%,#5F534C 80%,#5F534C 81.25%,#60534C 82.5%,#60544C 83.75%,#60544D 85%,#60544D 86.25%,#61544D 87.5%,#61544D 88.75%,#61544D 90%,#60544D 91.25%,#60544D 92.5%,#60544C 93.75%,#60544C 95%,#5F544C 96.25%,#5F544C 97.5%,#5F544C 98.75%,#5E544B 100%)"></i>
</div>
<svg id="streaks" width="800" height="600" viewBox="0 0 800 600"><defs><linearGradient id="s1" gradientUnits="userSpaceOnUse" x1="-10.0" y1="405.0" x2="11.5" y2="384.1"><stop offset="0" stop-color="#fff" stop-opacity="0.1"/><stop offset="1" stop-color="#fff" stop-opacity="0"/></linearGradient><linearGradient id="s2" gradientUnits="userSpaceOnUse" x1="120.0" y1="552.0" x2="147.3" y2="530.1"><stop offset="0" stop-color="#fff" stop-opacity="0.065"/><stop offset="1" stop-color="#fff" stop-opacity="0"/></linearGradient><linearGradient id="s3" gradientUnits="userSpaceOnUse" x1="312.0" y1="552.0" x2="343.2" y2="526.9"><stop offset="0" stop-color="#fff" stop-opacity="0.055"/><stop offset="1" stop-color="#fff" stop-opacity="0"/></linearGradient><linearGradient id="s4" gradientUnits="userSpaceOnUse" x1="215.0" y1="-10.0" x2="186.6" y2="10.5"><stop offset="0" stop-color="#fff" stop-opacity="0.04"/><stop offset="1" stop-color="#fff" stop-opacity="0"/></linearGradient></defs><polygon points="-10.0,405.0 70.0,487.0 91.5,466.1 11.5,384.1" fill="url(#s1)"/><polygon points="120.0,552.0 165.0,608.0 192.3,586.1 147.3,530.1" fill="url(#s2)"/><polygon points="312.0,552.0 357.0,608.0 388.2,582.9 343.2,526.9" fill="url(#s3)"/><polygon points="215.0,-10.0 280.0,80.0 251.6,100.5 186.6,10.5" fill="url(#s4)"/></svg>
<div id="title">Какие немецкие сказки вы</div>
<div id="chart"></div>
<div id="t2wrap"><div id="title2">з</div></div>
<!-- gridlines -->
<div class="hl" style="left:114px;top:88px;width:596px"></div>
<div class="hl" style="left:114px;top:131px;width:596px"></div>
<div class="hl" style="left:114px;top:173px;width:596px"></div>
<div class="hl" style="left:114px;top:216px;width:596px"></div>
<div class="hl" style="left:114px;top:258px;width:596px"></div>
<div class="hl" style="left:114px;top:301px;width:596px"></div>
<div class="hl" style="left:114px;top:343px;width:596px"></div>
<div class="hl" style="left:114px;top:386px;width:597px;background:#BDBDBD"></div>
<!-- artifacts -->
<div style="position:absolute;left:143px;top:341px;width:18px;height:5px;background:#fff"></div>
<div style="position:absolute;left:143px;top:342px;width:18px;height:1px;background:#B4B4B4;box-shadow:0 1px 0 #E6E6E6"></div>
<div style="position:absolute;left:247px;top:299px;width:16px;height:5px;background:#fff"></div>
<div style="position:absolute;left:247px;top:302px;width:16px;height:1px;background:#B8B8B8;box-shadow:0 -1px 0 #E6E6E6"></div>
<div style="position:absolute;left:613px;top:130px;width:2px;height:3px;background:#fff"></div>
<div style="position:absolute;left:393px;top:173px;width:4px;height:1px;background:#9C9C9C"></div>
<div style="position:absolute;left:438px;top:173px;width:4px;height:1px;background:#9C9C9C"></div>
<!-- axis -->
<div class="vl" style="left:120px;top:88px;height:304px"></div>
<div class="vl" style="left:204px;top:386px;height:6px"></div>
<div class="vl" style="left:288px;top:386px;height:6px"></div>
<div class="vl" style="left:372px;top:386px;height:6px"></div>
<div class="vl" style="left:457px;top:386px;height:6px"></div>
<div class="vl" style="left:541px;top:386px;height:6px"></div>
<div class="vl" style="left:625px;top:386px;height:6px"></div>
<div class="vl" style="left:709px;top:386px;height:6px"></div>
<!-- bars -->
<div class="bar" style="left:146px;top:361px;width:33px;height:25px"></div>
<div class="bar" style="left:230px;top:319px;width:33px;height:67px"></div>
<div class="bar" style="left:314px;top:287px;width:33px;height:99px"></div>
<div class="bar" style="left:398px;top:195px;width:33px;height:191px"></div>
<div class="bar" style="left:482px;top:286px;width:34px;height:100px"></div>
<div class="bar" style="left:567px;top:148px;width:33px;height:238px"></div>
<div class="bar" style="left:651px;top:172px;width:33px;height:214px"></div>
<!-- y labels -->
<div class="yl" style="left:62px;top:80px">14</div>
<div class="yl" style="left:62px;top:123px">12</div>
<div class="yl" style="left:62px;top:165px">10</div>
<div class="yl" style="left:62px;top:208px">8</div>
<div class="yl" style="left:62px;top:250px">6</div>
<div class="yl" style="left:62px;top:293px">4</div>
<div class="yl" style="left:62px;top:335px">2</div>
<div class="yl" style="left:62px;top:378px">0</div>
<!-- x labels -->
<div class="lab" style="left:51.63px;top:403.87px;font-size:14.64px;transform-origin:105.12px 5.38px">"Сладкая каша"</div>
<div class="lab" style="left:154.79px;top:405.64px;font-size:15.24px;transform-origin:83.71px 5.61px">"Рапунцель"</div>
<div class="lab" style="left:182.85px;top:403.61px;font-size:15.34px;transform-origin:141.90px 5.64px">"Госпожа Метелица"</div>
<div class="lab" style="left:232.80px;top:403.38px;font-size:15.30px;transform-origin:176.45px 5.62px">"Бременские музыканты"</div>
<div class="lab" style="left:399.44px;top:403.35px;font-size:15.37px;transform-origin:94.31px 5.65px">"Белоснежка"</div>
<div class="lab" style="left:508.65px;top:402.87px;font-size:15.32px;transform-origin:69.85px 5.63px">"Золушка"</div>
<div class="lab" style="left:510.66px;top:403.36px;font-size:15.36px;transform-origin:151.34px 5.64px">"Храбрый портняжка"</div>
<div id="frame"></div>
</body>
</html>
